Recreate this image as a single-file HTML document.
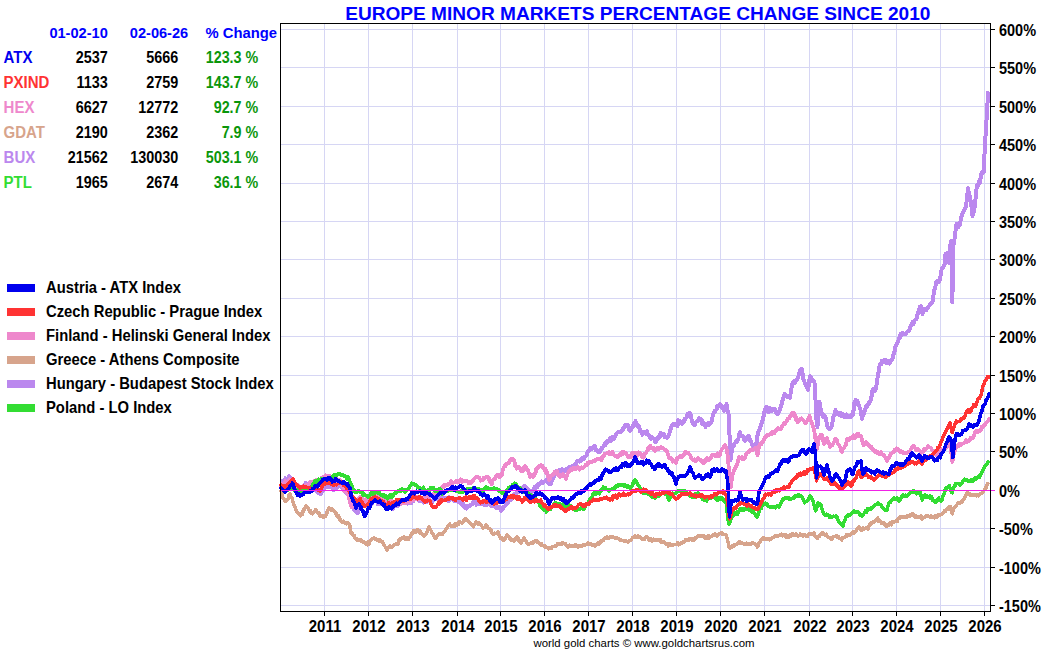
<!DOCTYPE html><html><head><meta charset="utf-8"><style>html,body{margin:0;padding:0;background:#fff;width:1050px;height:650px;overflow:hidden}</style></head><body><svg width="1050" height="650" viewBox="0 0 1050 650" style="position:absolute;left:0;top:0">
<rect width="1050" height="650" fill="#fff"/>
<path d="M324.5 24V611M368.5 24V611M412.5 24V611M457.5 24V611M500.5 24V611M544.5 24V611M588.5 24V611M632.5 24V611M676.5 24V611M720.5 24V611M764.5 24V611M809.5 24V611M852.5 24V611M896.5 24V611M940.5 24V611M984.5 24V611M281 29.5H990M281 67.5H990M281 106.5H990M281 144.5H990M281 183.5H990M281 221.5H990M281 259.5H990M281 298.5H990M281 336.5H990M281 375.5H990M281 413.5H990M281 451.5H990M281 490.5H990M281 528.5H990M281 567.5H990M281 605.5H990" stroke="#d6d6f4" stroke-width="1" fill="none"/>
<polyline points="281.0,486.0 281.7,484.2 282.4,484.7 283.1,480.5 283.9,481.7 284.6,482.0 285.3,478.3 286.0,480.0 286.8,479.0 287.6,478.9 288.4,478.3 289.2,476.0 290.0,477.0 290.7,478.5 291.4,479.7 292.1,479.8 292.9,482.9 293.6,483.4 294.3,484.7 295.0,486.0 295.7,486.0 296.4,487.4 297.1,487.4 297.9,488.9 298.6,488.6 299.3,487.9 300.0,489.0 300.7,488.2 301.4,488.8 302.1,486.9 302.9,487.1 303.6,486.7 304.3,485.4 305.0,485.0 305.7,482.6 306.4,485.1 307.1,485.2 307.9,485.1 308.6,484.2 309.3,486.3 310.0,485.0 310.7,485.3 311.4,485.2 312.1,485.5 312.9,487.1 313.6,486.0 314.3,486.5 315.0,488.0 315.7,490.9 316.4,491.1 317.1,491.7 317.9,492.9 318.6,492.9 319.3,491.4 320.0,494.0 320.7,494.2 321.4,493.3 322.1,491.5 322.9,488.0 323.6,490.3 324.3,489.4 325.0,487.0 325.7,486.3 326.4,486.8 327.1,487.4 327.9,486.3 328.6,487.4 329.3,486.2 330.0,486.0 330.7,486.9 331.4,486.4 332.1,484.9 332.9,485.5 333.6,490.0 334.3,487.1 335.0,487.0 335.7,488.1 336.4,487.6 337.1,487.9 337.9,486.4 338.6,484.9 339.3,485.3 340.0,485.0 340.7,483.7 341.4,486.2 342.1,488.1 342.9,485.6 343.6,488.8 344.3,490.1 345.0,490.0 345.7,492.8 346.4,491.9 347.1,493.6 347.9,493.7 348.6,496.1 349.3,499.1 350.0,500.0 350.7,503.5 351.4,501.4 352.1,505.3 352.8,505.6 353.5,506.0 354.2,510.1 354.9,506.5 355.6,510.3 356.3,511.9 357.0,513.0 357.8,513.2 358.5,510.9 359.2,509.4 360.0,505.0 360.7,505.3 361.4,506.3 362.1,506.9 362.9,506.1 363.6,506.1 364.3,505.7 365.0,506.0 365.7,505.1 366.4,503.9 367.1,506.8 367.9,503.8 368.6,501.7 369.3,503.7 370.0,503.0 370.7,502.5 371.4,502.3 372.1,503.6 372.9,501.2 373.6,500.6 374.3,499.6 375.0,500.0 375.7,500.3 376.4,500.1 377.1,501.1 377.9,504.4 378.6,501.8 379.3,500.8 380.0,502.0 380.7,504.4 381.4,503.6 382.1,503.9 382.9,504.2 383.6,504.6 384.3,504.9 385.0,506.0 385.7,505.9 386.4,506.6 387.1,505.0 387.9,505.9 388.6,505.5 389.3,507.6 390.0,507.0 390.7,507.6 391.4,506.0 392.1,506.9 392.9,508.8 393.6,507.1 394.3,504.4 395.0,505.2 395.7,505.8 396.4,504.8 397.1,505.0 397.9,505.6 398.6,504.5 399.3,502.8 400.0,504.4 400.7,503.3 401.4,503.3 402.1,502.4 402.9,501.3 403.6,501.2 404.3,501.9 405.0,502.0 405.7,501.0 406.4,499.4 407.1,503.6 407.9,501.3 408.6,502.0 409.3,503.4 410.0,503.0 410.7,499.9 411.4,503.3 412.1,500.5 412.9,501.4 413.6,499.6 414.3,499.9 415.0,499.0 415.7,499.3 416.4,499.3 417.1,497.5 417.9,498.0 418.6,499.7 419.3,501.3 420.0,500.0 420.7,499.7 421.4,501.1 422.1,501.0 422.9,501.7 423.6,502.5 424.3,500.1 425.0,502.0 425.7,502.3 426.4,501.8 427.1,501.7 427.9,501.1 428.6,501.2 429.3,500.9 430.0,502.0 430.7,500.4 431.4,503.8 432.1,502.5 432.9,500.3 433.6,500.6 434.3,498.4 435.0,499.0 435.7,495.9 436.4,496.8 437.1,498.7 437.9,499.9 438.6,498.2 439.3,497.1 440.0,498.0 440.7,497.8 441.4,497.1 442.1,496.7 442.9,498.0 443.6,497.9 444.3,497.6 445.0,497.6 445.7,497.6 446.4,498.9 447.1,500.2 447.9,498.6 448.6,501.2 449.3,497.2 450.0,499.0 450.7,499.4 451.4,498.1 452.1,499.3 452.9,499.7 453.6,500.3 454.3,501.0 455.0,499.4 455.7,498.8 456.4,500.1 457.1,500.7 457.9,499.8 458.6,501.7 459.3,502.6 460.0,501.0 460.7,500.5 461.4,503.4 462.1,505.1 462.9,503.0 463.6,506.2 464.3,506.8 465.0,508.0 465.7,506.1 466.4,508.5 467.1,506.9 467.9,505.8 468.6,506.3 469.3,506.1 470.0,505.0 470.7,505.4 471.4,504.8 472.1,504.1 472.9,502.0 473.6,502.4 474.3,502.6 475.0,502.0 475.7,499.4 476.4,504.8 477.1,502.5 477.9,502.0 478.6,501.5 479.3,504.0 480.0,504.0 480.8,504.2 481.6,503.8 482.4,504.2 483.2,503.9 484.0,505.0 484.8,504.1 485.5,504.6 486.2,503.9 487.0,505.2 487.8,504.2 488.5,504.4 489.2,504.6 490.0,504.0 490.8,505.8 491.5,505.6 492.2,505.7 493.0,506.0 493.7,506.1 494.4,505.7 495.1,506.5 495.9,507.9 496.6,507.7 497.3,507.3 498.0,508.0 498.8,507.0 499.6,507.2 500.4,509.5 501.2,510.7 502.0,510.0 502.8,509.4 503.5,506.6 504.2,506.8 505.0,506.0 505.8,505.2 506.6,503.0 507.4,503.4 508.2,501.8 509.0,501.0 509.8,499.4 510.5,498.2 511.2,499.6 512.0,498.0 512.8,497.4 513.6,495.1 514.4,493.9 515.2,494.9 516.0,493.0 516.8,492.8 517.6,491.1 518.4,492.3 519.2,489.5 520.0,489.0 520.7,487.6 521.4,489.6 522.1,487.9 522.9,488.2 523.6,487.6 524.3,486.2 525.0,487.0 525.7,486.5 526.4,488.2 527.1,490.6 527.9,488.8 528.6,492.0 529.3,491.5 530.0,492.0 530.8,490.6 531.5,491.8 532.2,491.8 533.0,491.0 533.8,489.3 534.5,487.3 535.2,489.1 536.0,488.0 536.8,486.0 537.6,486.9 538.4,483.6 539.2,484.7 540.0,484.0 540.8,482.7 541.6,481.6 542.4,482.5 543.2,482.6 544.0,482.0 544.8,481.2 545.5,480.3 546.2,481.5 547.0,481.0 547.8,479.9 548.5,483.1 549.2,483.8 550.0,484.0 550.8,484.3 551.5,481.9 552.2,479.9 553.0,478.0 553.8,476.5 554.5,474.5 555.2,471.4 556.0,471.0 556.8,472.5 557.6,471.6 558.4,470.7 559.2,469.8 560.0,471.0 560.8,472.3 561.5,471.1 562.2,469.0 563.0,470.0 563.8,470.5 564.6,471.6 565.4,469.4 566.2,469.6 567.0,469.0 567.8,468.1 568.5,467.3 569.2,468.6 570.0,467.0 570.8,469.8 571.6,466.3 572.4,465.7 573.2,466.2 574.0,465.0 574.8,464.1 575.5,464.5 576.2,464.0 577.0,461.4 577.8,460.8 578.5,461.2 579.2,461.5 580.0,460.0 580.8,460.0 581.5,460.8 582.2,457.8 583.0,459.0 583.8,458.8 584.5,456.8 585.2,456.9 586.0,456.0 586.8,454.8 587.5,452.0 588.2,451.3 589.0,450.0 589.8,448.5 590.5,449.8 591.2,448.4 592.0,449.0 592.8,447.5 593.7,447.2 594.5,446.0 595.3,447.0 596.2,450.5 597.0,451.0 597.8,450.6 598.5,452.4 599.2,452.0 600.0,452.0 600.8,449.7 601.5,449.3 602.2,447.4 603.0,447.0 603.8,445.4 604.5,444.2 605.2,445.2 606.0,442.0 606.8,441.1 607.5,442.6 608.2,441.0 609.0,440.0 609.8,438.6 610.5,437.6 611.2,440.7 612.0,440.0 612.8,436.9 613.5,438.8 614.2,438.1 615.0,436.0 615.8,435.4 616.5,433.8 617.2,432.7 618.0,432.0 618.8,432.3 619.5,431.7 620.2,431.4 621.0,432.0 621.8,430.4 622.5,430.7 623.2,427.6 624.0,427.0 624.8,426.9 625.5,424.8 626.2,424.8 627.0,425.0 627.8,425.1 628.5,427.8 629.2,430.2 630.0,431.0 630.8,430.1 631.5,428.0 632.2,427.9 633.0,426.0 633.8,424.0 634.7,423.1 635.5,421.0 636.3,423.3 637.2,425.6 638.0,427.0 638.8,425.7 639.5,428.1 640.2,431.6 641.0,432.0 641.8,432.1 642.5,434.8 643.2,432.5 644.0,433.0 644.8,431.9 645.5,433.6 646.2,432.1 647.0,431.0 647.8,434.7 648.5,435.0 649.2,436.0 650.0,438.0 650.8,438.8 651.5,437.2 652.2,437.5 653.0,438.0 653.8,438.4 654.5,439.8 655.2,441.8 656.0,442.0 656.8,440.0 657.5,439.3 658.2,437.0 659.0,436.0 659.8,436.7 660.6,432.7 661.4,435.2 662.2,435.4 663.0,435.0 663.8,434.4 664.5,437.1 665.2,436.7 666.0,437.0 666.8,437.8 667.5,437.0 668.2,436.2 669.0,435.0 670.0,431.3 671.0,428.0 671.8,425.5 672.7,425.1 673.5,424.0 674.3,423.9 675.2,424.9 676.0,425.0 676.8,423.5 677.5,426.2 678.2,420.3 679.0,421.0 679.8,422.6 680.6,421.3 681.4,421.9 682.2,423.6 683.0,423.0 683.8,421.8 684.5,419.2 685.2,419.7 686.0,418.0 686.8,416.8 687.6,413.9 688.4,415.2 689.2,412.9 690.0,413.0 690.8,415.0 691.5,419.0 692.2,421.6 693.0,424.0 693.8,423.2 694.5,425.3 695.2,422.9 696.0,422.0 696.8,421.0 697.6,421.4 698.4,420.7 699.2,418.1 700.0,420.0 700.8,418.9 701.5,419.6 702.2,423.7 703.0,422.0 703.8,423.5 704.7,425.0 705.5,427.0 706.3,425.1 707.2,425.4 708.0,423.0 708.8,423.0 709.5,424.8 710.2,423.8 711.0,423.0 712.0,420.2 713.0,414.0 713.8,412.9 714.5,412.4 715.2,410.5 716.0,410.0 716.8,408.6 717.5,405.7 718.2,405.6 719.0,405.0 719.8,404.3 720.5,404.8 721.2,407.0 722.0,406.0 723.0,408.8 724.0,411.0 724.8,409.9 725.7,407.2 726.5,404.0 727.5,410.0 728.5,414.0 729.5,435.0 730.5,460.0 731.2,455.5 732.0,449.0 732.8,446.9 733.5,446.8 734.2,444.2 735.0,443.0 735.8,441.4 736.7,442.2 737.5,440.0 738.3,439.6 739.2,433.6 740.0,432.0 740.8,435.1 741.7,435.5 742.5,436.0 743.3,436.8 744.2,439.6 745.0,441.0 745.8,440.1 746.5,438.9 747.2,436.9 748.0,436.0 748.8,435.9 749.5,438.5 750.2,440.6 751.0,441.0 751.8,444.2 752.7,446.4 753.5,448.0 754.3,448.5 755.2,445.6 756.0,446.0 757.0,439.0 758.0,432.0 758.8,430.6 759.5,429.5 760.2,426.9 761.0,425.0 762.0,422.5 763.0,419.0 764.0,414.1 765.0,409.0 765.8,411.2 766.5,406.7 767.2,409.0 768.0,409.0 768.8,412.0 769.6,410.0 770.4,408.3 771.2,410.7 772.0,411.0 772.8,409.0 773.5,409.3 774.2,409.7 775.0,409.0 775.8,412.4 776.7,412.8 777.5,414.0 778.3,413.0 779.2,411.7 780.0,409.0 781.0,406.2 782.0,403.0 782.8,399.1 783.7,396.9 784.5,394.0 785.3,395.4 786.2,395.7 787.0,397.0 787.8,396.6 788.5,397.1 789.2,396.2 790.0,398.0 790.8,391.9 791.5,388.0 792.2,384.9 793.0,382.0 793.8,381.4 794.5,381.5 795.2,382.7 796.0,381.0 797.0,379.8 798.0,378.0 798.8,375.0 799.5,372.0 800.3,369.8 801.2,368.9 802.0,369.0 802.8,374.9 803.5,380.0 804.3,381.1 805.2,384.4 806.0,386.0 807.0,386.9 808.0,390.0 809.0,383.1 810.0,376.0 811.0,377.4 812.0,379.0 812.8,381.4 813.7,381.3 814.5,383.0 815.5,400.0 816.5,420.0 817.5,427.0 818.0,410.0 818.8,405.6 819.5,402.0 820.0,405.0 821.0,410.3 822.0,415.0 822.8,415.3 823.5,417.3 824.2,415.5 825.0,416.0 825.8,418.4 826.5,421.7 827.2,425.5 828.0,428.0 829.0,428.7 830.0,429.0 831.0,427.7 832.0,425.0 833.0,418.6 834.0,415.0 834.8,415.1 835.5,410.0 836.3,413.2 837.2,412.6 838.0,414.0 838.8,413.1 839.6,415.0 840.4,415.6 841.2,413.3 842.0,416.0 842.7,416.0 843.4,414.5 844.1,416.5 844.8,417.4 845.5,417.1 846.2,414.4 846.9,417.4 847.6,416.9 848.3,415.6 849.0,416.0 849.8,416.3 850.6,417.2 851.4,415.1 852.2,415.2 853.0,415.0 853.8,407.9 854.5,402.0 855.2,403.2 855.9,399.8 856.6,403.5 857.3,401.0 858.0,402.0 859.0,406.0 860.0,408.0 861.0,411.8 862.0,419.0 862.8,415.8 863.5,413.9 864.2,413.1 865.0,410.0 865.8,406.8 866.5,407.6 867.2,404.8 868.0,404.0 868.8,404.3 869.5,401.7 870.2,401.5 871.0,400.0 871.8,394.8 872.5,390.0 873.2,391.5 873.9,388.8 874.6,388.8 875.3,390.5 876.0,388.0 876.8,383.1 877.5,378.0 878.5,372.7 879.5,366.0 880.2,364.4 881.0,364.5 881.8,361.1 882.5,362.8 883.2,361.2 884.0,361.0 884.8,359.8 885.6,360.3 886.4,363.4 887.2,363.0 888.0,363.0 888.8,360.8 889.6,363.7 890.4,360.5 891.2,360.2 892.0,360.0 892.8,357.6 893.7,353.5 894.5,352.0 895.3,347.3 896.2,345.2 897.0,343.0 898.0,341.7 899.0,338.0 899.8,337.7 900.5,333.9 901.2,335.5 902.0,333.0 902.8,333.2 903.6,333.9 904.4,333.7 905.2,334.2 906.0,334.0 906.8,332.2 907.5,331.6 908.2,331.0 909.0,331.0 910.0,327.6 911.0,325.0 911.8,324.9 912.5,322.2 913.2,324.4 914.0,322.0 914.8,320.3 915.7,319.4 916.5,319.0 917.2,316.2 918.0,312.0 918.8,311.0 919.5,308.6 920.2,306.4 921.0,306.0 921.8,309.0 922.5,314.0 923.2,309.8 924.0,309.0 924.8,309.9 925.5,309.6 926.2,310.2 927.0,308.0 927.8,307.5 928.5,306.3 929.2,305.8 930.0,304.0 930.8,304.2 931.5,302.2 932.2,302.1 933.0,301.0 934.0,290.0 935.0,288.7 936.0,283.0 936.8,281.0 937.5,281.0 938.2,281.2 939.0,282.0 939.8,279.3 940.5,276.2 941.2,271.1 942.0,268.0 942.8,267.7 943.7,265.9 944.5,265.0 945.5,254.0 946.5,253.8 947.5,253.0 948.2,257.4 949.0,263.0 950.0,248.0 951.0,241.0 952.3,302.0 953.5,245.0 954.5,239.0 955.5,231.5 956.5,224.0 957.2,224.2 957.9,225.6 958.6,226.9 959.3,222.9 960.0,225.0 961.0,217.0 962.0,215.1 963.0,212.0 963.8,210.5 964.5,210.0 965.2,208.6 966.0,206.0 967.0,197.8 968.0,188.0 969.0,193.3 970.0,197.0 970.8,202.3 971.7,207.9 972.5,216.0 973.3,214.1 974.2,209.9 975.0,205.0 976.0,194.0 977.0,185.0 977.8,185.8 978.5,184.7 979.2,180.9 980.0,183.0 981.0,174.0 981.8,174.2 982.5,171.5 983.2,173.0 984.0,171.0 984.6,151.0 985.8,131.0 987.0,113.0 988.0,93.0" fill="none" stroke="#bb88ee" stroke-width="4.0" stroke-linejoin="round" stroke-linecap="round" shape-rendering="crispEdges"/>
<polyline points="281.0,486.0 281.8,485.1 282.5,483.7 283.2,484.4 284.0,484.5 284.8,482.6 285.5,481.2 286.2,483.6 287.0,482.0 287.8,481.8 288.5,482.3 289.2,479.3 290.0,480.0 290.7,481.6 291.4,483.3 292.1,483.9 292.9,482.7 293.6,483.8 294.3,484.2 295.0,485.0 295.7,486.2 296.4,486.5 297.1,485.9 297.9,484.9 298.6,487.1 299.3,486.3 300.0,487.0 300.7,487.4 301.4,486.9 302.1,488.0 302.9,487.4 303.6,485.9 304.3,486.4 305.0,486.0 305.7,487.2 306.5,484.8 307.2,485.3 307.9,485.6 308.6,485.3 309.4,484.3 310.1,482.3 310.8,482.0 311.5,482.9 312.3,482.7 313.0,482.0 313.7,484.0 314.4,480.8 315.1,482.4 315.8,481.9 316.5,479.5 317.2,480.1 317.9,480.7 318.6,480.0 319.3,480.1 320.0,480.0 320.7,479.8 321.4,478.1 322.1,478.7 322.9,477.2 323.6,476.7 324.3,477.0 325.0,476.0 325.8,475.4 326.6,476.1 327.4,477.1 328.2,475.6 329.0,475.5 329.8,475.9 330.5,477.3 331.2,476.9 332.0,478.7 332.8,477.2 333.5,479.4 334.2,479.0 335.0,480.0 335.7,479.3 336.4,481.6 337.1,479.3 337.9,481.5 338.6,480.6 339.3,481.3 340.0,480.0 340.7,480.7 341.4,484.2 342.1,486.0 342.9,486.2 343.6,487.7 344.3,491.6 345.0,491.0 345.8,491.9 346.5,492.1 347.2,492.7 348.0,494.0 348.8,497.4 349.5,500.3 350.2,503.2 351.0,506.0 351.7,507.1 352.4,504.9 353.1,505.1 353.9,505.6 354.6,503.0 355.3,504.3 356.0,503.0 356.8,503.6 357.6,499.8 358.4,499.0 359.2,498.1 360.0,498.0 360.7,496.9 361.4,499.5 362.1,498.1 362.9,500.7 363.6,502.1 364.3,500.0 365.0,502.0 365.7,501.2 366.4,499.2 367.1,501.0 367.9,499.1 368.6,498.9 369.3,498.6 370.0,498.0 370.7,498.1 371.4,496.8 372.1,496.7 372.9,495.8 373.6,496.0 374.3,494.4 375.0,495.0 375.7,495.5 376.4,494.2 377.1,495.9 377.9,498.4 378.6,497.2 379.3,496.5 380.0,498.0 380.7,498.5 381.4,497.7 382.1,497.4 382.9,498.5 383.6,500.1 384.3,500.1 385.0,499.9 385.7,499.5 386.4,499.6 387.1,502.0 387.9,501.4 388.6,500.6 389.3,499.9 390.0,502.0 390.7,500.8 391.4,504.3 392.1,501.1 392.9,502.1 393.6,502.4 394.3,502.1 395.0,502.1 395.7,501.2 396.4,501.5 397.1,504.0 397.9,501.9 398.6,503.3 399.3,501.1 400.0,502.4 400.7,502.9 401.4,503.7 402.1,501.8 402.9,503.4 403.6,503.2 404.3,502.3 405.0,503.0 405.7,503.3 406.4,501.9 407.1,501.9 407.9,502.4 408.6,499.9 409.3,502.0 410.0,502.0 410.7,500.5 411.4,499.6 412.1,499.9 412.9,500.4 413.6,498.8 414.3,499.7 415.0,498.0 415.7,497.0 416.4,496.8 417.1,499.4 417.9,498.4 418.6,498.8 419.3,497.3 420.0,498.0 420.7,498.7 421.4,498.2 422.1,498.6 422.9,498.0 423.6,499.1 424.3,497.4 425.0,498.0 425.7,497.0 426.4,496.4 427.1,498.6 427.9,496.8 428.6,496.4 429.3,496.3 430.0,497.0 430.7,496.0 431.4,494.7 432.1,495.0 432.9,494.2 433.6,493.7 434.3,492.7 435.0,493.0 435.7,492.6 436.4,491.7 437.1,491.8 437.9,491.5 438.6,491.2 439.3,488.5 440.0,490.0 440.8,488.5 441.7,487.3 442.5,487.0 443.3,487.3 444.2,484.9 445.0,486.0 445.7,484.9 446.4,484.9 447.1,484.4 447.9,485.2 448.6,483.5 449.3,484.3 450.0,483.0 450.7,481.6 451.4,481.1 452.1,483.6 452.9,482.8 453.6,482.7 454.3,482.3 455.0,482.0 455.7,482.3 456.4,480.6 457.1,482.4 457.9,481.0 458.6,482.2 459.3,481.2 460.0,481.0 460.7,479.3 461.4,479.9 462.1,482.0 462.9,480.9 463.6,480.7 464.3,481.2 465.0,481.0 465.7,480.8 466.4,480.8 467.1,481.5 467.9,481.7 468.6,483.0 469.3,481.9 470.0,482.0 470.7,483.1 471.4,482.4 472.1,481.8 472.9,480.6 473.6,479.3 474.3,478.7 475.0,478.0 475.8,477.5 476.7,476.7 477.5,477.0 478.3,477.6 479.2,477.8 480.0,479.0 480.8,480.7 481.5,480.0 482.2,479.4 483.0,480.0 483.8,477.7 484.6,478.8 485.4,477.8 486.2,476.6 487.0,477.0 487.8,477.2 488.6,477.4 489.4,481.1 490.2,481.7 491.0,483.0 491.8,484.3 492.5,481.0 493.2,479.9 494.0,479.0 494.8,479.3 495.5,477.1 496.2,476.1 497.0,475.0 497.8,474.9 498.6,474.9 499.4,476.9 500.2,476.7 501.0,476.0 501.8,475.3 502.5,471.2 503.2,469.3 504.0,467.0 504.8,465.5 505.5,466.4 506.2,463.5 507.0,464.0 507.8,463.5 508.5,463.0 509.2,462.2 510.0,460.0 510.8,458.9 511.5,460.5 512.2,458.6 513.0,459.0 513.8,460.3 514.5,461.8 515.2,466.0 516.0,467.0 516.8,468.7 517.6,466.9 518.4,466.9 519.2,467.5 520.0,468.0 520.8,471.0 521.5,470.4 522.2,469.8 523.0,471.0 524.0,466.9 525.0,466.0 525.8,466.4 526.5,469.0 527.2,470.6 528.0,470.0 529.0,473.3 530.0,477.0 530.8,476.2 531.6,476.2 532.4,474.7 533.2,477.0 534.0,476.0 534.8,473.3 535.5,473.4 536.2,469.2 537.0,469.0 537.8,467.1 538.6,467.7 539.4,465.9 540.2,466.5 541.0,465.0 541.8,466.0 542.5,466.0 543.2,468.5 544.0,469.0 544.8,470.5 545.5,468.8 546.2,472.9 547.0,472.0 548.0,476.4 549.0,480.0 549.8,479.4 550.5,475.9 551.2,475.6 552.0,475.0 552.8,474.1 553.6,474.7 554.4,471.9 555.2,471.8 556.0,472.0 556.8,471.2 557.6,473.8 558.4,475.3 559.2,474.5 560.0,477.0 560.8,475.7 561.5,475.9 562.2,476.1 563.0,474.0 563.8,475.8 564.5,476.2 565.2,476.7 566.0,479.0 567.0,475.2 568.0,473.0 568.8,471.4 569.5,471.1 570.2,470.0 571.0,469.0 571.8,470.3 572.6,468.9 573.4,467.5 574.2,469.6 575.0,468.0 575.7,469.0 576.4,468.4 577.1,467.8 577.9,466.9 578.6,467.8 579.3,469.7 580.0,469.0 580.8,468.0 581.5,467.3 582.2,468.4 583.0,468.0 583.8,467.3 584.5,466.8 585.2,466.0 586.0,464.5 586.8,465.2 587.6,462.8 588.4,463.9 589.2,461.6 590.0,462.0 590.7,462.3 591.4,461.6 592.1,461.4 592.9,461.7 593.6,460.6 594.3,461.3 595.0,460.0 595.7,460.6 596.4,459.8 597.1,459.1 597.9,458.8 598.6,458.8 599.3,459.0 600.0,459.0 600.8,458.2 601.5,460.1 602.2,457.3 603.0,456.0 603.8,456.1 604.6,454.0 605.4,453.6 606.2,453.3 607.0,453.0 607.8,453.2 608.6,452.1 609.4,454.4 610.2,452.5 611.0,453.0 611.8,454.4 612.5,451.9 613.2,454.5 614.0,455.0 614.8,455.6 615.6,456.0 616.4,456.7 617.2,456.8 618.0,457.0 618.8,456.6 619.5,454.3 620.2,454.9 621.0,455.0 621.8,452.2 622.5,454.1 623.2,453.0 624.0,452.0 624.8,452.6 625.5,452.8 626.2,453.7 627.0,455.0 627.8,457.1 628.5,457.5 629.2,456.4 630.0,457.0 630.8,457.4 631.5,454.1 632.2,453.0 633.0,454.0 633.8,453.4 634.6,452.8 635.4,452.9 636.2,453.4 637.0,453.0 637.8,455.7 638.5,452.4 639.2,453.0 640.0,453.0 640.8,454.2 641.5,455.0 642.2,456.8 643.0,457.0 643.8,457.6 644.5,453.9 645.2,454.1 646.0,453.0 646.8,451.5 647.5,450.8 648.2,447.9 649.0,448.0 649.8,446.5 650.5,446.0 651.2,448.5 652.0,448.0 652.8,448.9 653.5,449.6 654.2,448.2 655.0,451.0 655.8,450.2 656.5,449.3 657.2,448.3 658.0,449.0 658.8,447.7 659.5,448.6 660.2,448.0 661.0,447.0 661.8,447.5 662.5,448.5 663.2,448.0 664.0,449.0 664.8,449.6 665.5,450.0 666.2,451.0 667.0,451.0 668.0,454.4 669.0,458.0 669.8,458.1 670.5,458.4 671.2,458.2 672.0,459.0 672.8,461.7 673.5,461.0 674.2,461.6 675.0,462.0 675.8,463.0 676.5,461.2 677.2,457.6 678.0,458.0 679.0,457.6 680.0,456.0 680.8,456.5 681.5,457.2 682.2,456.4 683.0,455.0 683.8,454.9 684.5,452.5 685.2,452.0 686.0,452.0 686.8,452.7 687.5,453.4 688.2,452.6 689.0,454.0 689.8,454.9 690.5,456.1 691.2,457.8 692.0,459.0 692.8,459.8 693.5,459.7 694.2,459.4 695.0,461.0 695.8,461.3 696.5,460.9 697.2,458.7 698.0,458.0 698.8,459.4 699.5,459.4 700.2,460.1 701.0,460.0 701.8,461.2 702.5,460.8 703.2,462.8 704.0,463.0 704.8,462.6 705.5,459.7 706.2,461.0 707.0,458.0 707.8,459.8 708.5,459.6 709.2,459.8 710.0,458.0 710.8,457.9 711.5,456.2 712.2,455.2 713.0,455.0 713.8,454.5 714.5,455.6 715.2,455.7 716.0,456.0 716.8,456.1 717.5,453.2 718.2,456.5 719.0,454.0 719.8,454.8 720.5,451.5 721.2,450.8 722.0,449.0 722.8,448.4 723.5,447.2 724.2,445.8 725.0,445.0 726.0,447.4 727.0,450.0 727.8,456.8 728.5,465.0 729.2,473.7 730.0,482.0 731.0,487.0 732.0,477.0 733.0,473.5 734.0,470.0 734.8,469.0 735.5,466.7 736.2,466.3 737.0,465.0 738.0,461.0 739.0,457.0 740.0,458.0 741.0,458.0 741.8,457.3 742.5,458.9 743.2,459.6 744.0,459.0 744.8,458.0 745.5,455.7 746.2,454.1 747.0,453.0 747.8,452.0 748.5,452.1 749.2,452.1 750.0,450.0 750.8,449.9 751.5,449.4 752.2,450.3 753.0,450.0 753.8,449.7 754.5,448.2 755.2,447.9 756.0,448.0 756.8,451.4 757.5,455.0 758.2,451.1 759.0,446.0 759.8,444.2 760.6,443.5 761.4,444.0 762.2,441.7 763.0,442.0 764.0,439.6 765.0,437.0 765.7,436.9 766.4,436.0 767.1,434.8 767.9,435.2 768.6,434.6 769.3,434.7 770.0,434.0 770.7,433.0 771.4,434.4 772.1,431.7 772.9,432.7 773.6,432.6 774.3,433.1 775.0,432.0 775.8,430.5 776.5,430.5 777.2,428.5 778.0,428.0 779.0,429.1 780.0,429.0 780.8,429.5 781.5,426.6 782.2,426.4 783.0,425.0 783.8,423.4 784.5,424.4 785.2,423.8 786.0,422.0 786.8,420.8 787.6,418.6 788.4,418.8 789.2,418.2 790.0,416.0 790.8,416.4 791.6,415.5 792.4,412.6 793.2,413.0 794.0,413.0 794.8,416.3 795.5,415.9 796.2,420.0 797.0,421.0 797.8,422.2 798.5,420.7 799.2,420.5 800.0,419.0 800.8,419.0 801.5,418.4 802.2,419.7 803.0,420.0 803.8,420.6 804.5,421.5 805.2,422.9 806.0,423.0 806.7,421.5 807.4,420.4 808.1,419.2 808.8,417.4 809.5,416.0 810.3,420.0 811.2,421.1 812.0,423.0 813.0,426.1 814.0,429.0 814.8,434.3 815.5,440.0 816.2,443.9 817.0,449.0 818.0,444.2 819.0,437.0 819.8,436.6 820.5,435.1 821.2,435.0 822.0,435.0 823.0,439.4 824.0,444.0 824.8,442.1 825.5,442.0 826.2,438.5 827.0,438.0 827.8,440.7 828.5,442.6 829.2,443.7 830.0,447.0 830.8,446.3 831.5,445.4 832.2,445.2 833.0,444.0 833.8,442.4 834.5,441.8 835.2,438.8 836.0,439.0 836.8,439.5 837.5,442.7 838.2,444.4 839.0,445.0 839.8,446.7 840.5,448.0 841.2,451.2 842.0,452.0 842.8,448.7 843.5,448.3 844.2,448.1 845.0,446.0 845.8,444.8 846.5,441.6 847.2,439.1 848.0,439.0 848.8,440.1 849.6,438.7 850.4,437.6 851.2,438.2 852.0,438.0 852.8,438.5 853.5,435.2 854.2,438.2 855.0,437.0 855.8,437.3 856.6,434.4 857.4,436.5 858.2,433.8 859.0,435.0 860.0,436.5 861.0,436.0 862.0,440.4 863.0,444.0 863.8,445.5 864.5,442.5 865.2,442.5 866.0,442.0 866.8,443.9 867.6,443.4 868.4,444.4 869.2,445.7 870.0,447.0 870.8,447.5 871.6,447.2 872.4,449.2 873.2,449.9 874.0,450.0 874.8,450.6 875.5,452.5 876.2,451.2 877.0,452.0 877.8,453.5 878.5,452.3 879.2,453.8 880.0,453.5 880.8,452.1 881.5,454.2 882.3,454.2 883.1,454.6 883.9,455.4 884.8,456.6 885.6,458.1 886.5,459.0 887.3,460.9 888.0,457.7 888.7,457.9 889.4,456.7 890.1,455.5 890.8,453.8 891.5,453.5 892.3,452.6 893.0,452.7 893.8,451.1 894.5,450.1 895.3,451.0 896.0,449.9 896.8,448.3 897.5,449.6 898.2,450.4 898.9,449.6 899.6,450.3 900.3,451.9 901.0,451.4 901.8,451.3 902.6,452.1 903.5,453.0 904.3,453.4 905.1,453.5 905.9,452.8 906.8,453.5 907.6,452.1 908.5,452.5 909.3,451.4 910.1,451.0 910.9,449.4 911.7,448.1 912.5,446.2 913.2,445.7 913.9,446.1 914.6,447.2 915.3,448.7 916.0,450.1 916.7,449.3 917.4,448.7 918.2,450.5 918.9,449.9 919.7,450.5 920.4,451.3 921.2,452.7 921.9,452.5 922.7,451.9 923.5,451.9 924.2,449.2 925.0,449.3 925.8,449.3 926.6,448.6 927.4,447.0 928.2,446.2 929.0,447.5 929.9,447.4 930.7,447.8 931.6,449.2 932.4,450.4 933.1,450.5 933.8,454.3 934.5,452.1 935.2,454.7 935.9,454.1 936.6,454.6 937.4,454.2 938.1,453.9 938.9,451.9 939.7,452.8 940.5,451.6 941.2,449.3 942.0,450.0 942.7,450.0 943.4,449.4 944.1,448.8 944.9,449.2 945.6,446.9 946.3,447.2 947.0,446.2 947.8,446.3 948.5,444.3 949.2,445.6 950.0,444.0 950.8,448.7 951.5,454.8 952.3,461.9 953.1,459.0 953.8,454.1 954.6,451.6 955.4,448.3 956.1,446.3 956.8,447.3 957.5,445.7 958.2,446.5 958.9,444.3 959.6,445.1 960.4,445.1 961.3,444.0 962.1,443.9 963.0,443.4 963.8,443.0 964.5,442.8 965.3,441.3 966.0,439.9 966.8,441.9 967.5,440.7 968.3,440.9 969.0,441.0 969.7,440.8 970.4,438.2 971.1,438.7 971.8,438.3 972.5,437.4 973.2,437.8 974.2,434.9 975.3,431.5 976.0,431.4 976.7,430.8 977.4,430.6 978.1,432.2 978.8,430.9 979.5,431.5 980.3,431.0 981.1,429.8 981.9,426.7 982.7,427.3 983.5,425.3 984.2,425.2 985.0,424.4 985.8,423.0 986.6,422.7 987.4,421.7 988.2,420.9 989.0,419.0" fill="none" stroke="#ee88cc" stroke-width="3.8" stroke-linejoin="round" stroke-linecap="round" shape-rendering="crispEdges"/>
<polyline points="281.0,491.0 282.0,494.2 283.0,498.0 284.0,499.3 285.0,501.0 285.8,501.1 286.5,499.7 287.2,500.3 288.0,499.0 289.0,495.4 290.0,494.0 290.8,496.5 291.5,497.9 292.2,498.6 293.0,502.0 294.0,505.2 295.0,507.0 295.8,509.2 296.7,511.0 297.5,513.0 298.3,512.9 299.2,514.0 300.0,515.0 300.8,515.8 301.7,513.7 302.5,514.0 303.2,509.9 303.9,510.2 304.6,508.3 305.3,507.5 306.0,506.0 306.8,506.7 307.5,507.3 308.2,508.4 309.0,510.0 309.7,511.6 310.4,510.6 311.1,513.8 311.8,512.8 312.5,514.0 313.2,512.2 314.0,512.6 314.8,511.4 315.5,510.0 316.3,510.2 317.2,512.5 318.0,513.0 318.8,512.4 319.5,513.8 320.2,516.1 321.0,516.0 321.8,516.1 322.5,515.6 323.2,517.1 324.0,517.0 325.0,516.7 326.0,515.0 326.8,513.2 327.5,510.2 328.2,509.5 329.0,508.0 329.8,508.6 330.5,509.1 331.2,510.1 332.0,509.0 332.8,509.6 333.5,510.2 334.2,511.2 335.0,512.0 335.8,514.1 336.5,513.8 337.2,516.7 338.0,517.0 338.8,516.0 339.5,519.6 340.2,519.5 341.0,521.0 341.8,521.7 342.6,522.3 343.4,521.3 344.2,522.5 345.0,523.0 345.8,523.4 346.6,523.8 347.4,522.9 348.2,523.1 349.0,524.0 349.8,525.6 350.5,530.0 351.3,533.5 352.2,533.2 353.0,535.0 353.8,535.8 354.5,535.9 355.2,538.7 356.0,539.0 356.8,538.8 357.6,540.4 358.4,540.2 359.2,539.8 360.0,540.0 360.8,541.0 361.5,540.2 362.2,541.3 363.0,542.0 363.8,542.1 364.5,542.1 365.2,543.5 366.0,544.0 366.8,543.9 367.5,545.0 368.2,541.6 369.0,544.0 370.0,541.5 371.0,540.0 371.8,538.8 372.5,538.7 373.2,538.8 374.0,538.0 374.8,538.8 375.5,539.0 376.2,539.2 377.0,540.0 377.8,540.6 378.5,540.8 379.2,539.4 380.0,541.0 380.8,541.3 381.5,541.0 382.2,541.6 383.0,543.0 383.8,544.5 384.6,545.8 385.4,547.3 386.2,548.0 387.0,550.0 387.8,548.9 388.5,547.3 389.2,547.3 390.0,546.0 390.8,546.5 391.5,547.3 392.2,546.9 393.0,546.0 393.8,545.0 394.6,544.9 395.4,544.1 396.2,544.6 397.0,544.0 397.8,544.4 398.5,542.5 399.2,539.4 400.0,540.0 400.8,538.5 401.6,537.9 402.4,538.6 403.2,537.6 404.0,537.0 404.8,537.7 405.5,539.3 406.2,537.9 407.0,539.0 407.8,537.9 408.5,539.4 409.2,537.7 410.0,537.0 410.8,535.4 411.5,533.5 412.2,532.9 413.0,533.0 413.7,530.8 414.4,532.2 415.1,531.7 415.9,532.0 416.6,530.8 417.3,529.9 418.0,530.0 418.8,530.2 419.5,532.9 420.2,531.0 421.0,533.0 421.8,533.9 422.5,534.5 423.2,535.7 424.0,536.0 424.8,534.7 425.5,534.4 426.2,533.6 427.0,532.0 428.0,529.4 429.0,527.0 429.8,528.2 430.5,529.9 431.2,530.8 432.0,533.0 432.7,533.9 433.4,534.8 434.1,536.2 434.8,538.0 435.5,538.0 436.2,538.1 436.9,536.1 437.6,536.0 438.3,535.0 439.0,534.0 439.7,534.5 440.4,534.0 441.1,534.2 441.8,533.7 442.5,534.0 443.2,532.4 443.9,532.6 444.6,531.9 445.3,530.5 446.0,529.0 446.8,528.3 447.5,527.2 448.2,525.7 449.0,525.0 449.8,524.0 450.5,526.0 451.2,525.9 452.0,526.0 452.8,525.4 453.6,524.9 454.4,526.3 455.2,523.9 456.0,525.0 456.8,525.5 457.5,524.0 458.2,524.5 459.0,522.0 459.8,521.7 460.5,522.5 461.2,522.4 462.0,523.0 462.7,522.3 463.4,521.2 464.1,520.1 464.8,520.6 465.5,519.0 466.3,519.1 467.2,520.0 468.0,521.0 468.8,522.1 469.5,522.1 470.2,522.9 471.0,524.0 471.8,525.3 472.7,525.7 473.5,527.0 474.3,524.4 475.2,523.6 476.0,522.0 476.8,522.2 477.6,524.0 478.4,522.4 479.2,524.3 480.0,524.0 480.8,524.4 481.5,525.7 482.2,526.8 483.0,528.0 483.8,527.4 484.5,527.1 485.2,527.0 486.0,525.0 486.8,525.3 487.6,527.6 488.4,528.1 489.2,528.8 490.0,529.0 490.8,529.7 491.5,532.1 492.2,532.7 493.0,534.0 493.7,534.0 494.4,533.2 495.1,533.6 495.9,533.7 496.6,533.4 497.3,532.1 498.0,532.0 499.0,535.2 500.0,537.0 500.8,538.6 501.6,537.5 502.4,539.9 503.2,538.4 504.0,540.0 504.8,539.1 505.5,537.9 506.2,537.3 507.0,535.0 507.8,536.2 508.5,536.7 509.2,537.4 510.0,539.0 510.8,538.5 511.6,540.4 512.4,540.0 513.2,540.1 514.0,541.0 514.8,540.4 515.5,538.4 516.2,537.7 517.0,537.0 517.8,537.9 518.6,540.6 519.4,541.7 520.2,541.7 521.0,543.0 521.8,540.6 522.5,540.7 523.2,539.3 524.0,538.0 524.8,539.5 525.6,540.8 526.4,541.4 527.2,543.5 528.0,544.0 528.8,544.4 529.6,543.8 530.4,543.1 531.2,542.9 532.0,543.0 532.8,543.1 533.6,541.4 534.4,541.7 535.2,540.9 536.0,541.0 536.8,540.6 537.6,542.6 538.4,542.8 539.2,543.4 540.0,544.0 540.8,545.0 541.6,543.7 542.4,545.2 543.2,545.8 544.0,546.0 544.8,547.0 545.6,546.0 546.4,547.7 547.2,547.8 548.0,548.0 548.8,548.8 549.6,548.4 550.4,547.8 551.2,548.7 552.0,547.0 552.8,546.8 553.6,546.3 554.4,546.2 555.2,545.5 556.0,546.0 556.8,545.6 557.6,543.8 558.4,544.7 559.2,544.7 560.0,544.0 560.8,544.5 561.5,543.2 562.2,544.2 563.0,543.0 563.8,543.1 564.6,544.1 565.4,543.4 566.2,544.9 567.0,546.0 567.7,545.4 568.4,547.1 569.1,546.4 569.9,545.2 570.6,546.4 571.3,546.3 572.0,546.0 572.7,545.8 573.5,546.0 574.2,545.8 574.9,545.6 575.6,544.8 576.4,545.9 577.1,546.9 577.8,547.0 578.5,545.8 579.3,545.5 580.0,546.0 580.8,545.7 581.6,546.2 582.4,545.6 583.2,544.8 584.0,545.0 584.7,545.0 585.4,544.4 586.1,544.7 586.9,543.9 587.6,542.9 588.3,543.8 589.0,543.5 589.8,544.4 590.6,543.5 591.4,544.6 592.2,545.7 593.0,545.5 593.8,544.9 594.6,544.4 595.4,546.0 596.2,544.9 597.0,544.0 597.8,544.3 598.6,542.5 599.4,543.9 600.2,541.2 601.0,542.0 601.8,540.9 602.5,541.0 603.2,540.7 604.0,539.0 604.8,538.1 605.6,538.1 606.4,538.5 607.2,536.8 608.0,538.0 608.8,538.1 609.6,537.8 610.4,536.8 611.2,537.2 612.0,536.5 612.8,537.2 613.6,537.1 614.4,537.5 615.2,538.4 616.0,537.5 616.8,537.5 617.5,538.4 618.2,538.3 619.0,539.0 619.8,540.1 620.5,539.5 621.2,540.5 622.0,540.5 622.8,540.6 623.6,540.5 624.4,541.7 625.2,540.4 626.0,540.5 626.8,541.7 627.5,541.6 628.2,542.2 629.0,541.5 629.8,540.6 630.5,540.6 631.2,539.8 632.0,538.5 632.8,537.4 633.5,537.4 634.2,536.5 635.0,536.0 635.8,536.3 636.6,537.5 637.4,536.4 638.2,536.0 639.0,537.5 639.8,536.7 640.6,538.0 641.4,538.3 642.2,539.1 643.0,539.5 643.7,539.3 644.4,539.5 645.1,537.9 645.8,537.4 646.5,536.5 647.2,536.7 647.9,538.3 648.6,539.5 649.3,540.2 650.0,540.0 650.7,538.6 651.4,540.6 652.1,541.1 652.9,540.6 653.6,539.0 654.3,539.8 655.0,540.0 655.8,540.4 656.6,540.3 657.4,539.4 658.2,539.4 659.0,540.0 659.8,541.1 660.6,539.9 661.4,542.2 662.2,541.6 663.0,542.0 663.8,542.7 664.6,542.1 665.4,543.1 666.2,544.5 667.0,544.5 667.7,543.6 668.4,546.1 669.1,543.7 669.9,543.9 670.6,544.9 671.3,545.3 672.0,545.0 672.8,545.4 673.6,544.5 674.4,544.6 675.2,544.4 676.0,544.5 676.8,544.0 677.6,542.5 678.4,544.9 679.2,544.3 680.0,544.0 680.7,543.7 681.4,542.7 682.1,542.9 682.9,542.3 683.6,541.8 684.3,542.2 685.0,541.0 685.7,539.5 686.4,540.6 687.1,539.4 687.9,539.6 688.6,540.6 689.3,538.5 690.0,539.0 690.8,539.1 691.6,539.0 692.4,540.3 693.2,539.1 694.0,540.0 694.8,538.0 695.6,538.8 696.4,537.4 697.2,536.6 698.0,536.0 698.8,536.7 699.6,535.4 700.4,535.7 701.2,536.1 702.0,536.0 702.8,536.5 703.6,536.0 704.4,537.3 705.2,538.3 706.0,537.0 706.8,536.7 707.6,538.3 708.4,535.5 709.2,538.0 710.0,537.0 710.8,536.4 711.6,536.3 712.4,535.6 713.2,535.0 714.0,535.0 714.8,534.1 715.6,534.7 716.4,535.9 717.2,535.8 718.0,535.0 718.8,534.4 719.6,533.8 720.4,533.3 721.2,532.6 722.0,533.0 722.8,534.6 723.6,534.3 724.4,534.3 725.2,534.3 726.0,535.0 727.0,537.8 728.0,542.0 728.8,545.9 729.5,548.0 730.2,548.1 730.9,546.5 731.6,547.5 732.3,545.6 733.0,546.0 733.8,546.0 734.6,544.5 735.4,544.5 736.2,544.7 737.0,544.0 737.8,543.8 738.5,543.7 739.2,541.9 740.0,542.0 740.8,543.5 741.6,543.7 742.4,543.2 743.2,543.9 744.0,544.0 744.8,543.5 745.6,543.9 746.4,543.1 747.2,544.1 748.0,544.0 748.8,543.9 749.6,544.5 750.4,544.1 751.2,543.8 752.0,543.0 752.8,543.0 753.5,543.3 754.2,543.5 755.0,544.0 755.8,545.2 756.7,544.7 757.5,547.0 758.3,545.9 759.2,542.6 760.0,542.0 760.8,540.6 761.5,540.0 762.2,538.6 763.0,538.0 763.8,539.3 764.6,538.3 765.4,539.7 766.2,539.6 767.0,539.0 767.8,538.7 768.6,539.3 769.4,539.9 770.2,538.8 771.0,539.0 771.8,538.5 772.6,537.4 773.4,537.2 774.2,536.4 775.0,536.0 775.7,535.9 776.4,536.4 777.1,536.5 777.9,535.5 778.6,535.4 779.3,535.7 780.0,535.0 780.8,534.8 781.6,534.3 782.4,535.8 783.2,534.4 784.0,535.0 784.8,535.9 785.6,534.9 786.4,537.2 787.2,535.5 788.0,536.5 788.7,536.8 789.4,537.0 790.1,535.0 790.9,536.4 791.6,534.5 792.3,533.6 793.0,534.5 793.7,535.2 794.4,535.4 795.1,535.0 795.9,533.6 796.6,535.5 797.3,535.6 798.0,536.0 798.8,535.4 799.6,535.2 800.4,533.9 801.2,534.4 802.0,534.5 802.7,536.0 803.4,536.0 804.1,534.9 804.9,534.9 805.6,535.8 806.3,536.5 807.0,536.0 807.8,536.0 808.5,534.2 809.2,534.6 810.0,534.0 810.8,533.9 811.6,534.6 812.4,534.2 813.2,533.6 814.0,533.0 814.8,535.5 815.7,536.1 816.5,538.0 817.3,538.4 818.1,536.4 818.9,536.3 819.6,536.1 820.4,534.2 821.2,533.7 822.0,533.5 822.7,532.6 823.4,534.3 824.1,534.5 824.9,534.7 825.6,535.6 826.3,534.2 827.0,536.0 827.8,536.6 828.6,537.3 829.4,537.6 830.2,538.9 831.0,539.0 831.7,539.7 832.4,537.7 833.1,536.9 833.9,536.6 834.6,536.6 835.3,536.4 836.0,535.5 836.7,535.4 837.4,537.2 838.1,536.3 838.9,538.1 839.6,538.3 840.3,538.8 841.0,539.0 841.8,540.0 842.6,537.8 843.4,537.4 844.2,537.3 845.0,536.5 845.7,536.8 846.4,535.0 847.1,535.8 847.9,534.8 848.6,535.5 849.3,535.7 850.0,534.5 850.8,534.2 851.6,533.8 852.4,533.7 853.2,531.3 854.0,533.0 854.7,532.7 855.4,531.7 856.1,530.5 856.9,529.3 857.6,528.2 858.3,527.7 859.0,527.0 859.8,528.6 860.5,528.4 861.2,530.2 862.0,530.0 862.8,527.8 863.6,528.9 864.4,529.0 865.2,528.4 866.0,528.0 867.0,527.4 868.0,529.0 869.0,526.0 870.0,524.0 870.8,524.5 871.6,522.3 872.4,522.1 873.2,521.6 874.0,522.0 874.8,520.9 875.5,520.9 876.2,520.2 877.0,519.0 877.8,518.1 878.5,521.1 879.2,520.2 880.0,521.1 880.8,521.2 881.5,523.3 882.3,522.6 883.1,523.2 883.9,523.1 884.7,524.3 885.5,525.0 886.3,526.3 887.0,525.1 887.7,525.0 888.4,525.4 889.1,524.5 889.8,522.8 890.5,523.2 891.2,524.8 892.0,521.9 892.7,522.4 893.5,522.0 894.2,522.2 895.0,521.2 895.7,521.1 896.5,520.8 897.2,521.4 898.0,519.4 898.7,518.0 899.5,518.3 900.2,516.9 901.0,516.9 901.7,516.6 902.5,517.0 903.2,517.1 904.0,516.7 904.7,517.5 905.5,516.8 906.2,516.9 906.9,515.7 907.7,516.9 908.4,515.7 909.2,516.5 909.9,514.9 910.7,515.5 911.4,514.8 912.2,515.3 912.9,513.5 913.7,514.7 914.4,515.2 915.2,517.3 915.9,515.3 916.7,516.9 917.5,517.3 918.4,517.3 919.2,516.6 920.1,516.6 920.9,515.9 921.9,519.0 922.6,518.1 923.3,518.0 924.0,517.6 924.7,517.2 925.4,516.9 926.1,515.9 926.9,516.0 927.8,515.8 928.6,516.1 929.5,517.0 930.3,516.9 931.0,515.9 931.7,516.4 932.4,517.2 933.1,517.3 933.8,517.6 934.5,518.0 935.2,515.8 935.9,517.1 936.6,516.8 937.3,517.1 938.0,514.9 938.7,515.9 939.5,515.0 940.4,514.9 941.2,514.3 942.1,514.2 942.9,512.7 943.7,512.8 944.5,510.7 945.4,511.3 946.2,510.0 947.0,509.6 947.8,508.2 948.6,509.1 949.4,506.8 950.2,506.4 951.2,509.5 952.3,513.8 953.0,511.4 953.7,509.0 954.4,507.5 955.2,507.1 956.0,505.7 956.7,505.3 957.5,503.3 958.2,503.4 958.9,502.5 959.6,503.5 960.3,502.1 961.0,502.1 961.7,502.2 962.5,500.8 963.3,499.6 964.1,499.1 964.9,497.0 965.6,495.2 966.3,494.4 967.0,492.8 967.8,493.3 968.5,493.0 969.3,493.6 970.1,494.9 970.9,494.7 971.8,495.2 972.6,495.1 973.5,495.2 974.3,494.9 975.0,495.1 975.7,495.0 976.4,495.7 977.1,494.9 977.8,494.9 978.5,496.0 979.2,495.2 979.9,493.9 980.6,494.0 981.3,493.3 982.0,492.9 982.7,492.8 983.5,491.7 984.2,490.1 985.0,489.4 985.8,488.6 986.5,485.7 987.2,485.2 987.9,483.4" fill="none" stroke="#d7a48c" stroke-width="3.5" stroke-linejoin="round" stroke-linecap="round" shape-rendering="crispEdges"/>
<polyline points="281.0,488.0 281.8,487.9 282.6,488.2 283.4,488.0 284.2,489.4 285.0,490.0 285.7,490.5 286.4,488.9 287.1,487.7 287.9,490.5 288.6,490.0 289.3,488.8 290.0,488.0 290.7,487.7 291.4,487.4 292.1,487.2 292.9,489.0 293.6,489.7 294.3,488.0 295.0,489.0 295.7,489.3 296.4,489.4 297.1,489.7 297.9,490.5 298.6,492.0 299.3,490.2 300.0,491.0 300.7,491.5 301.4,491.6 302.1,490.4 302.9,490.3 303.6,489.3 304.3,491.0 305.0,490.0 305.7,489.3 306.4,488.9 307.1,489.2 307.9,488.2 308.6,487.8 309.3,488.1 310.0,488.0 310.8,488.3 311.6,486.2 312.4,486.0 313.2,483.7 314.0,484.0 315.0,481.0 316.0,481.0 316.8,482.2 317.6,480.3 318.4,479.2 319.2,480.1 320.0,480.0 320.7,480.4 321.4,478.5 322.1,479.1 322.9,479.9 323.6,478.9 324.3,480.2 325.0,479.5 325.7,480.1 326.4,479.6 327.1,478.7 327.9,478.9 328.6,478.3 329.3,478.5 330.0,478.5 330.8,478.1 331.5,477.0 332.2,477.4 333.0,476.0 333.8,477.6 334.5,474.8 335.2,475.1 336.0,474.5 336.8,475.0 337.6,474.8 338.4,474.0 339.2,473.7 340.0,474.0 340.7,475.1 341.4,475.1 342.1,475.2 342.9,474.5 343.6,475.9 344.3,476.3 345.0,476.0 345.8,476.5 346.6,477.7 347.4,479.5 348.2,476.9 349.0,479.0 350.0,482.0 351.0,484.0 352.0,486.1 353.0,490.0 354.0,489.9 355.0,492.0 355.7,491.8 356.4,492.4 357.1,492.0 357.9,491.1 358.6,490.9 359.3,491.6 360.0,492.0 360.7,492.4 361.4,492.2 362.1,492.1 362.9,495.1 363.6,493.5 364.3,494.5 365.0,495.0 365.8,495.1 366.5,495.5 367.2,496.5 368.0,497.0 368.8,496.0 369.6,495.9 370.4,493.7 371.2,492.6 372.0,493.0 372.8,494.3 373.6,492.5 374.4,493.0 375.2,493.1 376.0,492.0 376.8,492.8 377.6,492.8 378.4,492.0 379.2,492.4 380.0,494.0 380.8,495.1 381.7,495.2 382.5,495.0 383.3,496.1 384.2,495.0 385.0,497.0 385.8,496.0 386.7,497.5 387.5,499.0 388.3,496.8 389.2,496.5 390.0,495.0 390.8,494.9 391.7,497.6 392.5,497.0 393.3,495.2 394.2,493.9 395.0,493.0 395.8,493.3 396.7,492.6 397.5,492.0 398.3,490.6 399.2,491.3 400.0,490.0 400.8,491.5 401.7,489.0 402.5,490.0 403.3,490.5 404.2,490.5 405.0,492.0 405.8,489.5 406.7,490.5 407.5,489.0 408.3,488.5 409.2,487.8 410.0,486.0 410.8,485.7 411.7,483.1 412.5,484.0 413.3,484.3 414.2,484.1 415.0,485.0 415.8,484.8 416.7,485.5 417.5,487.0 418.3,487.9 419.2,487.4 420.0,488.0 420.8,489.5 421.7,488.4 422.5,488.0 423.3,487.2 424.2,490.0 425.0,490.0 425.8,491.3 426.7,490.7 427.5,491.0 428.3,489.4 429.2,491.0 430.0,489.0 430.8,487.6 431.7,488.3 432.5,488.0 433.3,487.5 434.2,489.0 435.0,491.0 435.8,489.3 436.7,491.2 437.5,490.0 438.3,490.6 439.2,489.0 440.0,489.0 440.8,489.6 441.7,492.3 442.5,494.0 443.3,493.6 444.2,491.5 445.0,492.0 445.7,490.8 446.4,491.3 447.1,491.7 447.9,490.9 448.6,490.9 449.3,489.3 450.0,490.0 450.7,488.1 451.4,490.2 452.1,489.3 452.9,489.9 453.6,489.7 454.3,490.4 455.0,490.0 455.7,489.7 456.4,491.7 457.1,490.9 457.9,491.6 458.6,491.9 459.3,492.5 460.0,492.0 460.7,492.0 461.4,490.1 462.1,490.7 462.9,492.3 463.6,490.9 464.3,490.7 465.0,490.0 465.7,490.2 466.4,489.2 467.1,489.0 467.9,488.9 468.6,490.2 469.3,489.4 470.0,489.0 470.7,490.2 471.4,489.1 472.1,490.1 472.9,488.8 473.6,487.4 474.3,489.5 475.0,488.0 475.7,488.6 476.4,489.5 477.1,489.0 477.9,488.9 478.6,489.6 479.3,488.8 480.0,490.0 480.8,489.3 481.5,489.8 482.2,490.3 483.0,491.0 483.8,488.9 484.5,488.9 485.2,488.2 486.0,487.0 486.8,489.0 487.6,489.2 488.4,488.2 489.2,489.3 490.0,489.0 490.7,488.8 491.4,489.3 492.1,489.0 492.9,488.6 493.6,489.1 494.3,487.8 495.0,489.0 495.7,489.6 496.4,489.3 497.1,489.0 497.9,489.9 498.6,490.9 499.3,490.2 500.0,491.0 500.8,491.9 501.5,492.4 502.2,493.7 503.0,493.0 503.7,491.6 504.4,491.8 505.1,491.7 505.9,491.9 506.6,490.3 507.3,490.2 508.0,489.0 508.7,487.3 509.4,487.4 510.1,488.6 510.9,486.5 511.6,487.8 512.3,485.0 513.0,485.0 513.8,484.5 514.5,483.2 515.2,484.8 516.0,484.0 516.8,485.2 517.6,487.6 518.4,487.1 519.2,487.8 520.0,489.0 520.7,488.3 521.4,489.8 522.1,491.0 522.9,491.3 523.6,492.1 524.3,492.3 525.0,492.0 525.7,492.4 526.4,493.3 527.1,493.4 527.9,492.7 528.6,495.5 529.3,494.9 530.0,495.0 530.7,494.6 531.4,496.2 532.1,496.5 532.9,497.5 533.6,498.3 534.3,495.2 535.0,498.0 535.8,499.4 536.5,501.2 537.2,500.3 538.0,502.0 538.8,501.8 539.5,504.7 540.2,506.0 541.0,507.0 541.8,508.0 542.5,507.6 543.2,508.9 544.0,510.0 544.8,510.3 545.6,510.8 546.4,512.0 547.2,510.6 548.0,510.5 548.8,509.3 549.6,507.2 550.4,509.3 551.2,507.6 552.0,507.0 552.8,506.1 553.6,504.6 554.4,505.2 555.2,502.4 556.0,503.0 556.8,503.3 557.6,503.5 558.4,503.8 559.2,504.8 560.0,504.0 560.7,504.2 561.4,504.6 562.1,505.5 562.9,503.9 563.6,505.2 564.3,505.8 565.0,506.0 565.7,506.8 566.4,505.4 567.1,506.6 567.9,506.3 568.6,504.8 569.3,504.8 570.0,506.0 570.7,505.4 571.4,507.3 572.1,507.9 572.9,508.9 573.6,509.5 574.3,509.0 575.0,510.0 575.7,510.7 576.4,510.4 577.1,509.9 577.9,509.8 578.6,508.3 579.3,509.4 580.0,509.0 580.8,508.2 581.6,508.1 582.4,508.7 583.2,509.1 584.0,509.0 584.8,507.8 585.6,506.3 586.4,504.6 587.2,504.3 588.0,503.0 588.8,501.2 589.5,499.4 590.2,499.3 591.0,498.0 591.8,497.9 592.5,495.2 593.2,493.4 594.0,493.0 594.8,494.1 595.6,494.4 596.4,492.8 597.2,492.8 598.0,493.0 598.8,492.4 599.5,493.8 600.2,490.9 601.0,490.0 601.8,490.3 602.5,489.4 603.2,487.1 604.0,488.0 604.8,487.5 605.6,487.8 606.4,489.5 607.2,489.7 608.0,490.0 608.8,491.2 609.6,489.4 610.4,489.6 611.2,489.3 612.0,489.0 612.8,488.5 613.6,489.6 614.4,487.4 615.2,487.8 616.0,486.0 616.8,486.8 617.6,485.1 618.4,485.9 619.2,484.9 620.0,485.0 620.8,485.1 621.6,485.1 622.4,485.0 623.2,484.6 624.0,485.0 624.8,486.4 625.6,485.2 626.4,486.2 627.2,487.1 628.0,486.0 628.8,486.7 629.5,487.3 630.2,487.9 631.0,487.0 631.8,486.5 632.6,485.6 633.4,481.7 634.2,483.0 635.0,480.0 635.8,481.7 636.7,481.9 637.5,485.0 638.3,485.5 639.2,485.9 640.0,488.0 640.8,489.2 641.5,489.3 642.2,490.9 643.0,493.0 643.8,493.2 644.6,493.1 645.4,492.4 646.2,492.8 647.0,493.0 647.8,493.5 648.6,494.3 649.4,494.8 650.2,495.2 651.0,496.0 651.8,497.1 652.6,495.5 653.4,496.8 654.2,497.7 655.0,498.0 655.8,497.2 656.5,496.6 657.2,496.2 658.0,496.0 658.8,495.6 659.6,495.8 660.4,494.1 661.2,493.4 662.0,493.0 662.8,493.5 663.6,493.2 664.4,492.1 665.2,494.0 666.0,494.0 666.8,495.2 667.5,496.5 668.2,499.0 669.0,500.0 669.8,498.8 670.5,497.0 671.2,494.5 672.0,495.0 672.8,493.2 673.6,494.2 674.4,493.7 675.2,493.8 676.0,493.0 676.8,492.8 677.6,491.8 678.4,490.8 679.2,490.5 680.0,491.0 680.7,491.0 681.4,490.4 682.1,492.0 682.9,490.5 683.6,490.3 684.3,491.7 685.0,492.0 685.7,491.2 686.4,494.4 687.1,492.9 687.9,494.2 688.6,494.7 689.3,494.8 690.0,496.0 690.8,494.8 691.5,495.0 692.2,497.4 693.0,497.0 693.7,497.2 694.4,497.6 695.1,494.1 695.9,495.2 696.6,494.1 697.3,494.2 698.0,493.0 698.8,493.6 699.6,495.6 700.4,496.7 701.2,497.5 702.0,498.0 702.8,499.6 703.6,498.7 704.4,500.4 705.2,499.0 706.0,500.0 706.8,500.9 707.6,497.0 708.4,498.8 709.2,497.8 710.0,498.0 710.8,497.6 711.6,498.0 712.4,497.4 713.2,496.5 714.0,496.0 714.8,498.2 715.6,496.4 716.4,497.7 717.2,500.4 718.0,500.0 718.8,499.9 719.6,497.5 720.4,499.1 721.2,497.5 722.0,498.0 722.8,500.0 723.6,500.5 724.4,500.0 725.2,502.2 726.0,502.0 726.8,507.8 727.5,515.0 728.2,520.2 729.0,524.0 730.0,522.0 731.0,519.0 731.8,517.9 732.5,515.9 733.2,515.8 734.0,515.0 734.8,512.8 735.6,513.7 736.4,512.3 737.2,514.4 738.0,513.0 738.8,511.2 739.5,509.1 740.2,510.5 741.0,509.0 741.8,509.3 742.6,508.6 743.4,510.7 744.2,509.6 745.0,509.0 745.8,509.1 746.6,508.5 747.4,506.6 748.2,509.4 749.0,509.0 749.8,510.5 750.5,510.0 751.2,510.1 752.0,512.0 752.8,512.5 753.5,511.7 754.2,513.5 755.0,514.0 755.8,515.6 756.7,517.2 757.5,517.0 758.3,514.5 759.2,511.8 760.0,509.0 760.8,508.6 761.5,508.1 762.2,505.7 763.0,505.0 763.8,503.8 764.5,503.9 765.2,503.2 766.0,504.0 766.8,503.9 767.6,505.1 768.4,506.1 769.2,506.5 770.0,507.0 770.8,507.1 771.6,506.7 772.4,507.3 773.2,507.7 774.0,507.0 774.8,507.4 775.6,507.8 776.4,506.2 777.2,506.0 778.0,506.0 779.0,506.9 780.0,505.0 780.8,503.7 781.5,502.3 782.2,500.2 783.0,499.0 783.8,499.6 784.6,498.3 785.4,497.6 786.2,498.2 787.0,498.0 787.8,497.8 788.6,499.1 789.4,498.3 790.2,498.9 791.0,499.0 791.8,498.4 792.6,498.5 793.4,497.3 794.2,498.3 795.0,497.0 795.8,495.5 796.6,495.9 797.4,495.2 798.2,495.9 799.0,495.0 799.8,495.5 800.5,496.4 801.2,496.2 802.0,497.0 802.8,498.4 803.7,500.1 804.5,503.0 805.3,502.1 806.2,501.2 807.0,501.0 807.8,500.0 808.5,498.8 809.2,498.0 810.0,496.0 810.8,497.2 811.5,497.9 812.2,498.9 813.0,501.0 813.8,504.4 814.7,508.0 815.5,511.0 816.3,509.9 817.2,505.8 818.0,503.0 818.8,504.9 819.5,505.5 820.2,503.7 821.0,505.0 821.8,508.2 822.5,510.4 823.2,512.8 824.0,514.0 824.8,514.2 825.6,515.2 826.4,514.2 827.2,514.7 828.0,515.0 828.8,515.4 829.6,517.2 830.4,516.0 831.2,517.4 832.0,517.0 832.8,516.9 833.6,516.0 834.4,516.6 835.2,516.7 836.0,516.0 836.8,516.9 837.5,519.5 838.2,519.9 839.0,522.0 839.8,522.1 840.6,523.8 841.4,524.2 842.2,524.4 843.0,526.0 843.8,522.4 844.5,521.5 845.2,519.4 846.0,517.0 846.8,516.2 847.6,516.3 848.4,514.6 849.2,515.7 850.0,515.0 850.8,514.5 851.6,513.6 852.4,512.1 853.2,511.9 854.0,511.0 854.8,511.3 855.6,512.3 856.4,511.8 857.2,512.0 858.0,512.0 858.8,512.2 859.6,514.3 860.4,515.3 861.2,514.8 862.0,516.0 862.8,515.5 863.6,514.2 864.4,513.0 865.2,511.0 866.0,511.0 866.8,512.0 867.6,508.7 868.4,510.0 869.2,509.1 870.0,509.0 870.8,509.3 871.6,507.5 872.4,507.2 873.2,507.1 874.0,506.0 874.8,505.8 875.6,504.4 876.4,504.7 877.2,503.9 878.0,503.0 879.0,504.4 880.0,504.3 880.8,504.9 881.5,506.4 882.3,507.1 883.1,508.5 883.9,508.4 884.7,509.8 885.5,510.4 886.3,510.6 887.1,509.6 887.8,506.1 888.6,504.6 889.4,502.2 890.1,502.6 890.8,501.1 891.5,500.7 892.2,500.2 892.9,499.1 893.6,499.1 894.4,498.0 895.2,499.4 896.0,498.4 896.8,498.0 897.5,499.0 898.2,499.1 898.9,501.2 899.7,500.0 900.5,499.6 901.4,496.5 902.2,495.4 903.0,494.9 903.7,496.0 904.4,496.4 905.1,496.7 905.8,495.2 906.5,496.3 907.2,496.0 908.0,494.6 908.9,494.7 909.7,493.2 910.6,492.8 911.4,491.8 912.1,492.5 912.8,491.3 913.5,490.7 914.3,491.3 915.1,492.3 915.9,493.3 916.7,493.9 917.5,493.0 918.2,493.0 919.0,492.8 919.8,491.8 920.7,495.8 921.5,495.7 922.4,500.1 923.3,497.4 924.1,495.6 925.0,494.9 925.7,495.9 926.4,497.5 927.1,496.1 927.8,496.4 928.5,497.6 929.2,497.0 930.0,495.8 930.8,498.4 931.6,496.8 932.4,500.1 933.2,500.7 934.0,500.7 934.7,501.3 935.5,502.2 936.3,501.4 937.1,499.6 937.9,499.9 938.7,498.0 939.8,499.6 940.8,501.2 941.6,499.7 942.3,499.6 943.1,495.4 943.9,493.9 944.6,492.5 945.3,489.0 946.0,487.6 946.8,488.1 947.5,487.3 948.3,486.1 949.1,485.5 949.9,488.1 950.7,490.4 951.5,492.1 952.3,492.8 953.0,490.4 953.7,487.9 954.4,485.5 955.2,485.9 956.0,483.3 956.7,483.4 957.5,483.4 958.2,483.8 958.9,483.9 959.6,484.9 960.3,484.8 961.0,483.7 961.7,483.4 962.5,482.7 963.3,480.3 964.1,480.1 964.9,479.2 965.7,479.8 966.5,479.9 967.4,480.5 968.2,481.4 969.0,481.3 969.8,480.5 970.6,480.9 971.4,479.9 972.2,481.3 973.0,481.6 973.9,479.2 974.7,478.0 975.6,479.4 976.4,478.1 977.1,477.4 977.8,477.8 978.5,476.3 979.2,477.7 979.9,476.1 980.6,475.0 982.0,472.4 982.9,470.4 983.9,468.3 984.8,466.1 985.6,464.9 986.3,464.6 987.1,464.5 987.9,461.9" fill="none" stroke="#33dd33" stroke-width="3.5" stroke-linejoin="round" stroke-linecap="round" shape-rendering="crispEdges"/>
<polyline points="281.0,485.0 281.8,485.3 282.6,486.1 283.4,486.5 284.2,485.5 285.0,487.0 285.8,486.2 286.6,486.9 287.4,484.8 288.2,483.8 289.0,484.0 289.8,482.0 290.6,481.1 291.4,481.3 292.2,481.3 293.0,479.0 293.8,480.6 294.5,481.7 295.2,484.4 296.0,484.0 296.8,484.4 297.6,485.1 298.4,486.8 299.2,487.6 300.0,488.0 300.7,487.1 301.4,486.8 302.1,487.8 302.9,487.6 303.6,486.3 304.3,487.0 305.0,487.0 305.8,486.8 306.6,487.7 307.4,487.5 308.2,487.7 309.0,488.0 309.8,487.9 310.6,489.2 311.4,489.7 312.2,488.5 313.0,489.0 313.8,489.4 314.6,488.0 315.4,488.5 316.2,488.8 317.0,488.0 317.8,489.9 318.5,489.2 319.2,490.2 320.0,491.0 320.8,489.6 321.5,486.9 322.2,486.5 323.0,485.0 323.8,484.1 324.6,484.5 325.4,482.9 326.2,481.9 327.0,483.0 327.8,483.0 328.5,483.2 329.2,482.6 330.0,483.0 330.8,484.1 331.6,483.6 332.4,483.7 333.2,485.0 334.0,485.0 334.7,483.6 335.4,484.1 336.1,484.4 336.8,484.8 337.5,484.0 338.2,483.5 339.0,483.6 339.8,482.5 340.5,482.9 341.2,483.6 342.0,482.0 342.8,482.2 343.5,485.3 344.2,483.8 345.0,485.0 345.7,486.2 346.4,487.4 347.1,489.2 347.9,488.6 348.6,489.1 349.3,492.3 350.0,493.0 350.8,494.6 351.6,495.5 352.4,498.0 353.2,497.2 354.0,498.0 354.8,499.0 355.6,500.3 356.4,500.7 357.2,502.5 358.0,502.0 358.8,500.8 359.5,501.2 360.2,498.6 361.0,501.0 361.8,502.6 362.6,502.7 363.4,504.7 364.2,506.6 365.0,506.0 365.8,505.7 366.5,505.3 367.2,504.9 368.0,505.0 368.8,502.9 369.5,501.5 370.2,501.0 371.0,499.0 371.8,498.6 372.6,498.3 373.4,497.7 374.2,498.1 375.0,497.0 375.7,497.8 376.4,497.7 377.1,498.8 377.9,498.6 378.6,498.3 379.3,500.7 380.0,500.0 380.7,500.9 381.4,500.4 382.1,502.5 382.9,502.5 383.6,501.7 384.3,504.7 385.0,504.0 385.7,504.3 386.4,504.7 387.1,504.2 387.9,503.9 388.6,502.8 389.3,504.7 390.0,504.0 390.7,503.7 391.4,503.2 392.1,503.4 392.9,502.9 393.6,503.1 394.3,502.0 395.0,502.0 395.7,501.7 396.4,499.8 397.1,500.8 397.9,501.4 398.6,501.6 399.3,500.0 400.0,500.0 400.7,499.9 401.4,501.2 402.1,499.8 402.9,500.6 403.6,501.3 404.3,500.0 405.0,500.0 405.7,500.6 406.4,498.9 407.1,499.3 407.9,498.8 408.6,498.7 409.3,499.1 410.0,498.0 410.8,499.4 411.6,496.7 412.4,496.4 413.2,496.8 414.0,496.0 414.7,495.8 415.4,497.6 416.1,498.2 416.8,498.2 417.5,499.0 418.3,498.7 419.2,496.5 420.0,497.0 420.8,498.6 421.7,497.8 422.5,500.0 423.3,500.1 424.2,500.9 425.0,502.0 425.8,501.0 426.7,501.3 427.5,500.0 428.3,500.4 429.2,500.4 430.0,501.0 430.8,503.4 431.7,506.2 432.5,507.0 433.3,507.0 434.2,507.3 435.0,507.0 435.8,507.3 436.7,505.9 437.5,505.0 438.3,502.7 439.2,504.2 440.0,501.0 440.8,502.7 441.7,499.5 442.5,501.0 443.3,500.6 444.2,500.7 445.0,500.0 445.7,500.4 446.4,499.9 447.1,498.9 447.9,498.1 448.6,498.6 449.3,499.1 450.0,498.0 450.7,497.5 451.4,497.8 452.1,498.8 452.9,497.7 453.6,499.2 454.3,499.4 455.0,500.0 455.7,500.1 456.4,498.9 457.1,498.5 457.9,498.6 458.6,498.5 459.3,497.8 460.0,498.0 460.7,498.2 461.4,498.9 462.1,499.3 462.9,499.9 463.6,498.1 464.3,498.5 465.0,499.0 465.7,497.0 466.4,500.2 467.1,498.0 467.9,498.4 468.6,498.7 469.3,497.1 470.0,498.0 470.7,498.2 471.4,497.7 472.1,496.2 472.9,497.7 473.6,498.2 474.3,495.7 475.0,497.0 475.8,497.9 476.7,497.8 477.5,498.0 478.3,499.7 479.2,501.0 480.0,502.0 480.7,502.8 481.4,501.5 482.1,502.2 482.9,501.1 483.6,501.8 484.3,500.5 485.0,501.0 485.7,501.1 486.4,502.6 487.1,501.8 487.9,501.5 488.6,500.8 489.3,501.3 490.0,502.0 490.7,502.3 491.4,503.0 492.1,502.8 492.9,503.0 493.6,502.7 494.3,503.9 495.0,503.0 495.7,502.6 496.4,502.3 497.1,503.2 497.9,502.5 498.6,502.1 499.3,501.7 500.0,502.0 500.7,501.5 501.4,501.9 502.1,501.4 502.9,499.9 503.6,500.9 504.3,500.4 505.0,500.0 505.8,498.5 506.5,499.1 507.2,497.5 508.0,497.0 508.7,496.6 509.4,497.3 510.1,497.6 510.9,495.9 511.6,496.6 512.3,495.5 513.0,496.0 513.7,498.0 514.4,496.2 515.1,497.8 515.9,496.7 516.6,498.0 517.3,499.4 518.0,498.0 518.7,496.5 519.4,498.5 520.1,499.7 520.9,499.6 521.6,499.6 522.3,502.2 523.0,501.0 523.8,500.1 524.5,497.8 525.2,498.6 526.0,497.0 526.8,496.7 527.5,499.9 528.2,499.6 529.0,501.0 529.8,501.2 530.6,502.2 531.4,501.4 532.2,500.3 533.0,501.5 533.8,499.9 534.6,501.8 535.4,501.2 536.2,499.7 537.0,500.0 537.8,500.9 538.5,500.9 539.2,501.2 540.0,501.0 540.8,500.0 541.5,502.3 542.2,503.9 543.0,504.0 543.8,505.4 544.5,506.4 545.2,504.8 546.0,507.5 546.8,507.7 547.6,508.1 548.4,509.7 549.2,507.2 550.0,508.0 550.8,507.1 551.6,506.8 552.4,506.9 553.2,505.3 554.0,505.0 554.8,506.1 555.6,504.8 556.4,505.8 557.2,505.4 558.0,506.0 558.8,506.5 559.6,506.3 560.4,506.0 561.2,508.4 562.0,508.0 562.8,509.0 563.5,509.1 564.2,510.4 565.0,511.0 565.8,511.3 566.5,509.3 567.2,509.4 568.0,509.0 568.8,509.2 569.6,509.0 570.4,508.1 571.2,506.6 572.0,508.0 572.8,508.9 573.6,508.2 574.4,508.0 575.2,507.8 576.0,508.0 576.8,507.4 577.6,506.1 578.4,504.8 579.2,504.2 580.0,504.0 580.8,503.9 581.6,504.3 582.4,504.3 583.2,506.1 584.0,506.0 584.8,504.6 585.6,505.7 586.4,504.0 587.2,504.7 588.0,504.0 588.8,504.4 589.6,503.0 590.4,501.6 591.2,501.6 592.0,501.0 592.8,500.9 593.6,499.3 594.4,499.9 595.2,500.3 596.0,500.0 596.8,499.4 597.6,499.7 598.4,500.0 599.2,499.8 600.0,499.0 600.7,499.5 601.4,499.2 602.1,498.4 602.9,498.4 603.6,498.1 604.3,497.9 605.0,498.0 605.7,498.1 606.4,497.3 607.1,498.6 607.9,499.1 608.6,498.7 609.3,499.7 610.0,500.0 610.8,499.8 611.6,498.7 612.4,499.8 613.2,495.6 614.0,497.0 614.8,496.6 615.6,495.2 616.4,497.1 617.2,498.2 618.0,496.0 618.8,493.9 619.6,495.7 620.4,495.8 621.2,495.0 622.0,495.0 622.8,495.4 623.6,493.3 624.4,495.6 625.2,495.3 626.0,495.0 626.8,494.8 627.6,494.2 628.4,494.9 629.2,493.8 630.0,494.0 630.8,493.6 631.6,492.4 632.4,490.5 633.2,491.6 634.0,491.0 634.8,491.0 635.6,491.2 636.4,489.7 637.2,490.2 638.0,490.0 638.8,490.7 639.6,490.5 640.4,491.5 641.2,492.3 642.0,491.0 642.8,490.1 643.6,489.1 644.4,491.1 645.2,491.4 646.0,490.0 646.8,491.3 647.6,491.8 648.4,491.3 649.2,491.9 650.0,493.0 650.8,494.1 651.6,493.1 652.4,492.8 653.2,493.8 654.0,495.0 654.8,496.7 655.6,496.1 656.4,493.9 657.2,493.6 658.0,494.0 658.8,494.0 659.6,493.0 660.4,494.4 661.2,493.1 662.0,493.0 662.8,492.0 663.6,493.6 664.4,492.0 665.2,492.4 666.0,492.0 666.8,492.4 667.6,492.6 668.4,493.4 669.2,493.1 670.0,494.0 670.8,493.2 671.6,493.5 672.4,494.8 673.2,495.8 674.0,497.0 675.0,498.0 676.0,499.0 676.8,498.4 677.6,498.2 678.4,497.3 679.2,496.0 680.0,496.0 680.8,495.1 681.6,493.6 682.4,494.7 683.2,494.8 684.0,494.0 684.8,494.3 685.5,493.7 686.2,493.5 687.0,494.2 687.8,493.4 688.5,493.8 689.2,493.6 690.0,493.0 690.8,493.8 691.6,495.2 692.4,494.4 693.2,495.1 694.0,496.0 694.8,495.3 695.5,495.1 696.2,496.8 697.0,496.8 697.8,495.4 698.5,495.7 699.2,496.0 700.0,495.0 700.7,495.9 701.4,496.5 702.1,494.9 702.9,495.7 703.6,496.8 704.3,497.8 705.0,497.0 705.7,497.1 706.4,496.3 707.1,496.7 707.9,496.5 708.6,496.3 709.3,498.1 710.0,497.0 710.7,496.1 711.4,496.2 712.1,497.4 712.9,496.2 713.6,495.1 714.3,494.0 715.0,494.0 715.7,494.0 716.4,494.7 717.1,493.6 717.9,493.8 718.6,492.6 719.3,492.7 720.0,492.0 720.8,491.8 721.6,492.3 722.4,493.0 723.2,490.9 724.0,492.0 724.8,493.3 725.7,494.8 726.5,496.0 727.2,500.1 728.0,505.0 728.8,511.8 729.5,519.0 730.3,516.9 731.2,515.2 732.0,511.0 732.8,510.7 733.5,509.7 734.2,507.6 735.0,508.0 735.8,508.7 736.5,506.6 737.2,505.7 738.0,505.0 738.8,503.8 739.6,504.2 740.4,503.0 741.2,503.5 742.0,503.0 742.8,503.8 743.6,503.8 744.4,504.4 745.2,504.0 746.0,505.0 746.8,506.3 747.6,504.9 748.4,504.2 749.2,505.7 750.0,506.0 750.8,505.8 751.6,506.0 752.4,506.9 753.2,507.8 754.0,508.0 754.8,507.3 755.6,508.3 756.4,509.7 757.2,509.3 758.0,509.0 759.0,506.9 760.0,505.0 760.8,503.6 761.5,501.9 762.2,500.5 763.0,499.0 763.8,498.6 764.5,496.9 765.2,494.2 766.0,495.0 766.8,494.8 767.6,493.9 768.4,494.9 769.2,493.7 770.0,494.0 770.7,493.8 771.4,495.1 772.1,492.3 772.9,492.0 773.6,491.5 774.3,490.5 775.0,492.0 775.7,490.3 776.4,491.7 777.1,490.7 777.9,489.4 778.6,489.4 779.3,490.8 780.0,490.0 780.8,488.8 781.6,488.5 782.4,488.5 783.2,488.6 784.0,487.0 784.8,488.5 785.6,487.8 786.4,487.1 787.2,487.1 788.0,487.0 788.8,487.2 789.6,485.7 790.4,483.2 791.2,482.5 792.0,481.0 792.8,480.6 793.6,479.8 794.4,478.8 795.2,477.6 796.0,478.0 796.8,476.6 797.5,474.8 798.2,475.9 799.0,474.0 799.8,474.4 800.6,473.1 801.4,475.1 802.2,474.7 803.0,474.0 803.8,472.0 804.5,474.4 805.2,473.1 806.0,472.0 806.8,473.0 807.6,469.9 808.4,470.6 809.2,469.9 810.0,469.0 810.8,468.9 811.5,468.6 812.2,469.1 813.0,468.0 814.0,469.4 815.0,473.0 815.8,476.1 816.5,481.0 817.2,478.5 817.9,477.8 818.6,476.3 819.3,475.7 820.0,474.0 820.8,475.2 821.6,476.0 822.4,476.5 823.2,477.7 824.0,479.0 824.8,479.5 825.6,479.2 826.4,478.5 827.2,478.0 828.0,478.0 828.8,480.7 829.5,480.5 830.2,483.0 831.0,484.0 831.8,484.7 832.6,483.4 833.4,484.0 834.2,482.4 835.0,483.0 835.8,484.8 836.5,485.2 837.2,484.8 838.0,487.0 838.8,487.9 839.6,487.1 840.4,489.2 841.2,488.1 842.0,489.0 842.8,488.1 843.5,487.7 844.2,486.5 845.0,486.0 845.8,485.2 846.5,483.6 847.2,483.5 848.0,482.0 848.8,483.0 849.5,484.2 850.2,482.9 851.0,486.0 851.8,485.6 852.5,483.5 853.2,480.9 854.0,481.0 854.8,479.6 855.5,478.4 856.2,477.3 857.0,475.0 858.0,472.2 859.0,471.0 859.8,473.7 860.5,473.9 861.2,477.3 862.0,477.0 862.8,475.9 863.5,475.5 864.2,473.7 865.0,473.0 865.8,472.9 866.5,475.3 867.2,475.9 868.0,476.0 868.8,477.7 869.5,477.7 870.2,477.1 871.0,478.0 871.8,477.2 872.5,478.5 873.2,479.0 874.0,480.0 874.8,478.6 875.5,478.9 876.2,478.0 877.0,477.0 877.8,476.2 878.5,475.9 879.2,475.0 880.0,474.5 880.7,475.0 881.4,475.8 882.1,476.3 882.8,475.4 883.5,475.1 884.2,476.6 885.0,477.5 885.9,476.2 886.7,476.8 887.6,474.5 888.4,475.5 889.1,474.7 889.8,474.5 890.5,472.9 891.2,473.0 891.9,473.5 892.6,472.4 893.3,472.6 894.1,472.4 894.8,469.9 895.6,468.9 896.3,469.8 897.1,469.5 897.8,468.2 898.5,468.2 899.3,466.9 900.0,468.3 900.8,468.1 901.5,467.8 902.3,466.8 903.0,467.0 903.7,466.7 904.4,466.6 905.1,465.1 905.8,463.6 906.5,464.7 907.2,464.0 908.0,463.9 908.9,463.2 909.7,463.4 910.6,461.9 911.4,461.9 912.1,462.0 912.8,462.0 913.5,462.9 914.2,463.8 914.9,462.6 915.6,463.0 916.4,463.9 917.3,462.9 918.1,461.7 919.0,460.9 919.8,459.8 920.5,462.5 921.2,462.5 921.9,464.0 922.7,462.9 923.5,461.1 924.2,461.2 925.0,459.8 925.7,460.5 926.4,459.5 927.1,459.1 927.8,458.2 928.5,458.2 929.2,457.7 930.0,456.1 930.8,457.4 931.6,455.8 932.4,455.6 933.2,453.7 934.0,452.9 934.7,451.8 935.5,451.4 936.3,451.0 937.1,450.1 937.9,447.2 938.7,447.2 939.5,446.4 940.2,444.8 941.0,442.1 941.8,441.0 942.6,437.8 943.4,436.2 944.2,434.2 945.0,432.6 945.8,431.8 946.5,430.2 947.3,427.9 948.1,428.4 948.8,426.8 949.5,423.6 950.2,423.0 951.2,428.5 952.3,432.6 953.0,429.6 953.7,427.9 954.4,426.3 955.1,423.9 955.8,422.4 956.5,421.0 957.2,422.0 957.9,421.6 958.6,421.5 959.3,421.2 960.0,421.0 960.8,419.2 961.6,419.4 962.4,418.8 963.2,417.9 964.0,418.0 964.8,416.6 965.5,413.9 966.2,412.2 967.0,411.0 967.8,410.5 968.5,409.9 969.2,412.2 970.0,412.0 970.8,411.8 971.5,409.6 972.2,407.5 973.0,407.0 973.8,404.4 974.5,406.1 975.2,406.4 976.0,405.0 977.0,402.2 978.0,399.0 978.8,398.7 979.5,398.1 980.2,396.9 981.0,395.0 982.0,390.2 983.0,386.0 984.0,384.3 985.0,381.0 986.0,380.1 987.0,378.0 988.0,376.3 989.0,377.0" fill="none" stroke="#ff3333" stroke-width="3.5" stroke-linejoin="round" stroke-linecap="round" shape-rendering="crispEdges"/>
<polyline points="281.0,488.0 281.8,488.6 282.6,490.0 283.4,490.2 284.2,490.9 285.0,492.0 285.7,490.4 286.4,490.1 287.1,490.3 287.9,488.9 288.6,488.5 289.3,487.1 290.0,486.0 290.8,485.3 291.7,484.1 292.5,483.0 293.3,484.0 294.2,488.4 295.0,490.0 295.8,492.1 296.7,493.7 297.5,495.0 298.3,494.0 299.2,494.3 300.0,496.0 300.8,495.0 301.7,495.0 302.5,495.0 303.3,494.2 304.2,493.0 305.0,492.0 305.8,492.4 306.7,491.5 307.5,492.0 308.3,492.2 309.2,492.3 310.0,492.0 310.8,490.5 311.7,491.4 312.5,489.0 313.3,488.4 314.2,488.0 315.0,486.0 315.8,485.8 316.7,486.1 317.5,487.0 318.3,485.4 319.2,484.2 320.0,483.0 320.8,482.5 321.7,481.2 322.5,480.0 323.3,479.3 324.2,478.6 325.0,479.0 325.8,478.6 326.7,480.0 327.5,479.0 328.3,478.0 329.2,478.5 330.0,478.0 330.8,479.7 331.7,479.5 332.5,482.0 333.3,481.4 334.2,481.7 335.0,480.0 335.8,478.7 336.7,480.4 337.5,481.0 338.3,481.2 339.2,481.0 340.0,482.0 340.8,482.7 341.7,482.6 342.5,483.0 343.3,481.8 344.2,483.7 345.0,483.0 345.8,483.9 346.7,484.4 347.5,484.0 348.3,486.5 349.2,487.0 350.0,488.0 350.8,493.1 351.5,498.0 352.3,498.3 353.2,501.2 354.0,502.0 355.0,504.5 356.0,508.0 356.8,506.6 357.5,505.0 358.2,504.2 359.0,504.0 359.8,505.1 360.5,508.0 361.2,506.9 362.0,510.0 362.8,510.8 363.7,514.2 364.5,516.0 365.3,515.8 366.2,513.8 367.0,512.0 367.8,509.2 368.5,507.5 369.2,508.5 370.0,507.0 370.8,504.7 371.7,502.8 372.5,502.0 373.3,502.1 374.2,501.5 375.0,500.0 375.8,500.8 376.7,501.5 377.5,502.0 378.3,502.0 379.2,502.6 380.0,501.0 380.8,502.5 381.7,503.4 382.5,504.0 383.3,505.4 384.2,504.7 385.0,507.0 385.8,508.7 386.7,509.1 387.5,509.0 388.3,509.1 389.2,506.8 390.0,508.0 390.8,507.5 391.7,508.7 392.5,508.0 393.3,505.6 394.2,505.9 395.0,505.0 395.8,505.5 396.7,503.3 397.5,504.0 398.3,504.6 399.2,503.1 400.0,502.0 400.8,501.2 401.7,500.9 402.5,500.0 403.3,500.5 404.2,500.1 405.0,500.0 405.8,500.6 406.7,498.8 407.5,499.0 408.3,497.3 409.2,497.2 410.0,495.0 410.8,494.0 411.7,492.3 412.5,492.0 413.3,493.1 414.2,493.8 415.0,493.0 415.8,492.3 416.7,491.2 417.5,492.0 418.3,491.6 419.2,491.2 420.0,491.0 420.8,491.4 421.7,493.5 422.5,493.0 423.3,492.5 424.2,494.7 425.0,494.0 425.8,492.7 426.7,492.7 427.5,493.0 428.3,493.8 429.2,494.6 430.0,494.0 430.8,495.4 431.7,495.6 432.5,496.0 433.3,497.1 434.2,498.1 435.0,499.0 435.8,498.1 436.7,496.2 437.5,495.0 438.3,494.6 439.2,494.1 440.0,493.0 440.8,492.7 441.7,492.9 442.5,492.0 443.3,492.1 444.2,492.9 445.0,491.0 445.8,490.9 446.7,490.0 447.5,490.0 448.3,489.4 449.2,489.3 450.0,489.0 450.8,489.1 451.7,487.4 452.5,487.0 453.3,488.3 454.2,490.5 455.0,490.0 455.8,487.3 456.7,487.8 457.5,488.0 458.3,487.5 459.2,487.0 460.0,486.0 460.8,486.5 461.7,486.3 462.5,487.0 463.3,488.5 464.2,489.2 465.0,490.0 465.8,490.2 466.7,493.3 467.5,492.0 468.3,492.0 469.2,490.9 470.0,491.0 470.8,490.9 471.7,490.8 472.5,491.0 473.3,490.3 474.2,487.5 475.0,489.0 475.8,489.3 476.7,491.1 477.5,491.0 478.3,490.7 479.2,492.3 480.0,493.0 480.8,494.3 481.5,494.7 482.2,495.7 483.0,495.0 483.8,493.9 484.5,495.2 485.2,495.5 486.0,496.0 486.8,497.2 487.5,498.4 488.2,496.1 489.0,499.0 489.8,500.9 490.5,499.8 491.2,502.5 492.0,503.0 492.8,500.8 493.5,501.1 494.2,501.0 495.0,499.0 495.8,498.6 496.5,498.7 497.2,498.9 498.0,498.0 498.8,499.1 499.5,499.9 500.2,502.2 501.0,502.0 501.8,502.1 502.5,500.3 503.2,501.9 504.0,499.0 504.8,496.3 505.5,496.2 506.2,493.5 507.0,492.0 507.8,491.6 508.5,491.6 509.2,490.7 510.0,490.0 510.8,489.8 511.5,487.3 512.2,486.5 513.0,487.0 513.8,487.5 514.5,486.2 515.2,486.2 516.0,487.0 516.8,486.3 517.5,489.0 518.2,489.1 519.0,489.0 519.8,490.9 520.5,489.7 521.2,491.3 522.0,492.0 522.8,490.6 523.5,491.6 524.2,491.8 525.0,490.0 525.8,490.8 526.5,494.2 527.2,495.3 528.0,496.0 528.8,496.4 529.5,495.4 530.2,498.6 531.0,498.0 531.8,497.4 532.5,496.5 533.2,496.8 534.0,496.0 534.8,495.6 535.5,495.7 536.2,492.9 537.0,493.0 537.8,493.9 538.5,494.2 539.2,494.2 540.0,493.0 540.8,493.4 541.5,493.4 542.2,495.3 543.0,495.0 543.8,495.8 544.5,496.6 545.2,498.4 546.0,498.0 546.8,499.3 547.5,499.2 548.2,502.2 549.0,504.0 549.8,501.0 550.5,501.7 551.2,499.8 552.0,498.0 552.8,497.5 553.5,498.0 554.2,498.7 555.0,498.0 555.8,497.8 556.5,498.6 557.2,497.2 558.0,497.0 558.8,498.1 559.5,498.7 560.2,499.0 561.0,498.0 561.8,498.2 562.5,500.2 563.2,498.7 564.0,501.0 564.8,500.6 565.5,500.4 566.2,503.4 567.0,503.0 567.8,501.3 568.5,501.5 569.2,500.6 570.0,500.0 570.8,499.2 571.5,498.0 572.2,497.9 573.0,497.0 573.8,497.7 574.5,495.5 575.2,495.2 576.0,494.0 576.8,494.6 577.6,493.4 578.4,492.4 579.2,492.8 580.0,493.0 580.8,493.4 581.5,490.7 582.2,491.0 583.0,491.0 583.8,491.1 584.5,490.1 585.2,488.8 586.0,488.0 586.8,488.0 587.6,486.9 588.4,485.3 589.2,484.3 590.0,485.0 590.8,484.1 591.6,484.9 592.4,483.3 593.2,482.7 594.0,483.0 594.8,481.8 595.6,480.6 596.4,481.1 597.2,479.7 598.0,480.0 598.8,480.0 599.5,477.6 600.2,479.5 601.0,479.0 601.8,476.7 602.5,473.9 603.2,474.3 604.0,472.0 604.8,471.3 605.5,469.2 606.2,469.8 607.0,470.0 607.8,470.7 608.5,470.6 609.2,472.1 610.0,472.0 610.8,472.0 611.6,471.3 612.4,470.5 613.2,470.7 614.0,469.0 614.8,469.8 615.5,469.9 616.2,468.1 617.0,470.0 617.8,470.0 618.5,469.5 619.2,467.5 620.0,467.0 620.8,466.1 621.5,467.6 622.2,464.1 623.0,465.0 623.8,464.9 624.5,465.9 625.2,462.8 626.0,463.0 626.8,464.3 627.5,466.0 628.2,465.2 629.0,466.0 629.8,465.9 630.5,465.7 631.2,463.8 632.0,464.0 632.8,462.2 633.5,460.7 634.2,459.4 635.0,457.0 635.8,459.0 636.7,460.8 637.5,463.0 638.2,462.0 638.9,462.3 639.6,463.1 640.3,462.3 641.0,462.0 641.8,461.5 642.6,461.7 643.4,464.7 644.2,463.7 645.0,463.0 645.8,463.1 646.6,460.1 647.4,462.3 648.2,461.8 649.0,461.0 649.8,463.6 650.5,463.8 651.2,464.7 652.0,466.0 652.8,467.4 653.7,466.4 654.5,469.0 655.2,468.8 655.9,467.3 656.6,465.4 657.3,466.1 658.0,464.0 658.8,466.0 659.6,464.1 660.4,465.3 661.2,466.6 662.0,467.0 662.8,466.6 663.5,465.7 664.2,464.7 665.0,465.0 665.8,468.2 666.5,468.8 667.2,468.5 668.0,471.0 668.8,470.3 669.6,473.2 670.4,473.0 671.2,474.1 672.0,473.0 672.8,475.6 673.7,476.3 674.5,479.0 675.2,481.7 676.0,484.0 677.0,479.3 678.0,478.0 679.0,476.4 680.0,476.0 680.8,476.0 681.6,476.4 682.4,475.4 683.2,475.9 684.0,476.0 684.8,475.9 685.5,475.3 686.2,475.0 687.0,474.0 687.8,472.4 688.5,470.2 689.2,469.4 690.0,467.0 691.0,469.5 692.0,472.0 692.8,472.8 693.5,474.5 694.2,476.5 695.0,478.0 695.8,477.3 696.6,476.9 697.4,476.2 698.2,475.7 699.0,475.0 699.8,475.7 700.6,475.6 701.4,477.7 702.2,479.0 703.0,479.0 703.8,478.5 704.6,477.2 705.4,477.0 706.2,475.0 707.0,475.0 707.8,474.0 708.5,476.0 709.2,475.8 710.0,477.0 710.8,475.8 711.5,472.6 712.2,469.6 713.0,470.0 713.8,469.2 714.5,471.3 715.2,469.7 716.0,470.0 716.8,469.2 717.5,469.9 718.2,471.2 719.0,471.0 719.8,470.9 720.5,470.1 721.2,470.7 722.0,469.0 722.8,470.0 723.6,469.8 724.4,470.7 725.2,471.9 726.0,471.0 726.8,476.3 727.5,480.0 728.5,495.0 729.0,505.0 729.5,517.0 730.5,505.0 731.2,504.3 732.0,502.0 732.8,500.6 733.5,500.9 734.2,501.1 735.0,500.0 735.8,499.8 736.5,500.9 737.2,500.5 738.0,500.0 739.0,496.7 740.0,492.0 741.0,494.8 742.0,498.0 742.8,500.2 743.6,499.4 744.4,498.4 745.2,498.9 746.0,499.0 746.8,501.3 747.6,499.1 748.4,500.3 749.2,500.6 750.0,500.0 750.8,500.4 751.6,499.9 752.4,501.4 753.2,501.9 754.0,502.0 754.7,503.3 755.4,503.4 756.1,503.2 756.8,504.3 757.5,504.0 758.2,498.4 759.0,492.0 760.0,490.2 761.0,488.0 761.8,486.5 762.5,484.8 763.2,484.0 764.0,482.0 765.0,478.7 766.0,477.0 766.8,476.5 767.5,477.0 768.2,475.8 769.0,477.0 769.8,475.7 770.5,473.4 771.2,473.5 772.0,473.0 772.8,473.0 773.5,472.5 774.2,471.5 775.0,471.0 775.8,470.6 776.5,469.4 777.2,471.7 778.0,470.0 779.0,467.4 780.0,464.0 780.8,464.1 781.6,461.7 782.4,461.5 783.2,459.3 784.0,460.0 784.8,461.0 785.6,461.5 786.4,459.7 787.2,461.6 788.0,462.0 788.8,461.5 789.6,458.6 790.4,457.5 791.2,457.1 792.0,457.0 792.8,456.3 793.6,455.5 794.4,456.4 795.2,456.4 796.0,456.0 796.8,455.9 797.6,455.4 798.4,455.4 799.2,454.5 800.0,453.0 800.8,451.2 801.5,451.1 802.2,449.9 803.0,450.0 803.8,450.1 804.5,451.9 805.2,453.0 806.0,454.0 806.8,453.1 807.5,450.2 808.2,449.3 809.0,449.0 809.8,449.7 810.5,450.3 811.2,451.0 812.0,452.0 813.0,447.9 814.0,444.0 814.8,449.4 815.5,456.0 816.5,478.0 817.2,472.6 818.0,466.0 818.8,466.5 819.5,466.4 820.2,466.2 821.0,467.0 821.8,468.9 822.5,468.8 823.2,472.2 824.0,475.0 824.8,472.5 825.5,468.8 826.2,467.7 827.0,465.0 827.8,468.1 828.5,469.9 829.2,473.8 830.0,477.0 831.0,478.7 832.0,481.0 832.8,480.0 833.6,478.7 834.4,476.8 835.2,474.7 836.0,474.0 836.8,474.9 837.5,475.9 838.2,477.6 839.0,478.0 839.8,480.0 840.5,480.9 841.2,482.2 842.0,485.0 842.8,483.7 843.5,482.4 844.2,481.1 845.0,481.0 846.0,475.9 847.0,471.0 847.8,470.1 848.5,470.1 849.2,469.9 850.0,469.0 851.0,471.2 852.0,474.0 852.8,474.1 853.5,470.2 854.2,469.6 855.0,467.0 855.8,466.1 856.5,465.9 857.2,462.1 858.0,463.0 858.8,461.9 859.5,462.2 860.2,462.0 861.0,461.0 862.0,469.4 863.0,474.0 863.8,472.8 864.5,472.0 865.2,470.1 866.0,468.0 866.8,469.4 867.6,469.6 868.4,469.7 869.2,470.8 870.0,471.0 870.8,470.5 871.6,472.7 872.4,471.4 873.2,472.8 874.0,473.0 874.8,473.9 875.5,471.3 876.2,470.8 877.0,470.0 877.8,471.5 878.5,471.2 879.2,471.2 880.0,472.4 880.7,472.6 881.5,472.9 882.2,473.0 883.0,471.8 883.7,473.8 884.5,473.7 885.2,472.4 886.0,472.9 886.8,473.7 887.6,473.6 888.4,474.5 889.2,473.8 890.0,470.2 890.7,469.4 891.5,467.0 892.3,466.0 893.0,465.3 893.8,465.9 894.5,465.8 895.3,464.1 896.0,463.0 896.8,463.0 897.5,463.8 898.2,463.3 898.9,463.7 899.6,464.9 900.3,464.7 901.0,464.0 901.8,463.4 902.6,465.4 903.4,463.4 904.2,463.8 905.0,463.0 905.8,461.4 906.6,460.9 907.5,458.5 908.3,458.8 909.0,459.3 909.7,458.1 910.4,455.2 911.1,454.1 911.8,453.1 912.5,453.5 913.2,455.1 913.9,454.5 914.6,455.6 915.3,456.0 916.0,456.9 916.7,457.7 917.5,456.3 918.2,456.7 919.0,455.0 919.8,455.6 920.5,457.3 921.2,459.4 921.9,460.9 922.7,459.9 923.5,458.1 924.2,456.2 925.0,455.6 925.8,456.3 926.6,456.3 927.4,458.4 928.2,457.7 929.0,458.1 929.8,457.1 930.5,456.6 931.3,456.7 932.1,457.2 932.9,458.1 933.7,459.6 934.5,460.9 935.2,460.6 935.9,460.2 936.6,459.8 937.3,460.4 938.0,457.7 938.7,457.7 939.5,456.7 940.4,457.9 941.2,453.1 942.1,453.1 942.9,452.5 943.7,450.5 944.5,448.4 945.2,446.5 946.0,444.0 946.8,442.0 947.5,440.7 948.3,438.6 949.1,436.8 949.8,438.8 950.5,438.1 951.2,441.0 952.0,448.6 952.8,457.7 953.6,450.8 954.4,444.0 955.1,439.7 955.8,436.2 956.5,433.6 957.2,434.3 957.9,433.4 958.6,434.7 959.3,434.9 960.0,434.8 960.7,434.7 961.5,434.1 962.2,432.5 963.0,430.4 963.8,430.5 964.6,430.2 965.4,430.3 966.2,429.3 967.0,429.4 968.0,426.7 969.0,424.2 969.8,425.3 970.6,424.5 971.4,426.3 972.2,426.3 973.0,427.5 973.8,425.3 974.5,425.6 975.3,425.2 976.1,424.3 976.9,424.8 977.7,423.1 978.5,422.0 979.3,419.7 980.2,415.4 981.0,413.0 981.8,411.0 982.5,409.0 983.2,405.6 984.0,405.0 984.8,404.7 985.5,402.7 986.2,399.1 987.0,399.0 988.0,397.1 989.0,394.0" fill="none" stroke="#0000ee" stroke-width="3.6" stroke-linejoin="round" stroke-linecap="round" shape-rendering="crispEdges"/>
<path d="M281 490.5H995" stroke="#f022e6" stroke-width="1"/>
<rect x="280.5" y="23.5" width="710" height="588" fill="none" stroke="#000" stroke-width="1"/>
<path d="M991 29.5H995M991 67.5H995M991 106.5H995M991 144.5H995M991 183.5H995M991 221.5H995M991 259.5H995M991 298.5H995M991 336.5H995M991 375.5H995M991 413.5H995M991 451.5H995M991 528.5H995M991 567.5H995M991 605.5H995M324.5 612V616M368.5 612V616M412.5 612V616M457.5 612V616M500.5 612V616M544.5 612V616M588.5 612V616M632.5 612V616M676.5 612V616M720.5 612V616M764.5 612V616M809.5 612V616M852.5 612V616M896.5 612V616M940.5 612V616M984.5 612V616" stroke="#000" stroke-width="1"/>
<text transform="translate(999 35.7) scale(1 1.11)" font-family="Liberation Sans, Arial, sans-serif" font-weight="bold" font-size="14.5" fill="#000">600%</text>
<text transform="translate(999 73.7) scale(1 1.11)" font-family="Liberation Sans, Arial, sans-serif" font-weight="bold" font-size="14.5" fill="#000">550%</text>
<text transform="translate(999 112.7) scale(1 1.11)" font-family="Liberation Sans, Arial, sans-serif" font-weight="bold" font-size="14.5" fill="#000">500%</text>
<text transform="translate(999 150.7) scale(1 1.11)" font-family="Liberation Sans, Arial, sans-serif" font-weight="bold" font-size="14.5" fill="#000">450%</text>
<text transform="translate(999 189.7) scale(1 1.11)" font-family="Liberation Sans, Arial, sans-serif" font-weight="bold" font-size="14.5" fill="#000">400%</text>
<text transform="translate(999 227.7) scale(1 1.11)" font-family="Liberation Sans, Arial, sans-serif" font-weight="bold" font-size="14.5" fill="#000">350%</text>
<text transform="translate(999 265.7) scale(1 1.11)" font-family="Liberation Sans, Arial, sans-serif" font-weight="bold" font-size="14.5" fill="#000">300%</text>
<text transform="translate(999 304.7) scale(1 1.11)" font-family="Liberation Sans, Arial, sans-serif" font-weight="bold" font-size="14.5" fill="#000">250%</text>
<text transform="translate(999 342.7) scale(1 1.11)" font-family="Liberation Sans, Arial, sans-serif" font-weight="bold" font-size="14.5" fill="#000">200%</text>
<text transform="translate(999 381.7) scale(1 1.11)" font-family="Liberation Sans, Arial, sans-serif" font-weight="bold" font-size="14.5" fill="#000">150%</text>
<text transform="translate(999 419.7) scale(1 1.11)" font-family="Liberation Sans, Arial, sans-serif" font-weight="bold" font-size="14.5" fill="#000">100%</text>
<text transform="translate(999 457.7) scale(1 1.11)" font-family="Liberation Sans, Arial, sans-serif" font-weight="bold" font-size="14.5" fill="#000">50%</text>
<text transform="translate(999 496.7) scale(1 1.11)" font-family="Liberation Sans, Arial, sans-serif" font-weight="bold" font-size="14.5" fill="#000">0%</text>
<text transform="translate(999 534.7) scale(1 1.11)" font-family="Liberation Sans, Arial, sans-serif" font-weight="bold" font-size="14.5" fill="#000">-50%</text>
<text transform="translate(999 573.7) scale(1 1.11)" font-family="Liberation Sans, Arial, sans-serif" font-weight="bold" font-size="14.5" fill="#000">-100%</text>
<text transform="translate(999 611.7) scale(1 1.11)" font-family="Liberation Sans, Arial, sans-serif" font-weight="bold" font-size="14.5" fill="#000">-150%</text>
<text transform="translate(325 631.6) scale(1 1.12)" font-family="Liberation Sans, Arial, sans-serif" font-weight="bold" font-size="15" text-anchor="middle" fill="#000">2011</text>
<text transform="translate(369 631.6) scale(1 1.12)" font-family="Liberation Sans, Arial, sans-serif" font-weight="bold" font-size="15" text-anchor="middle" fill="#000">2012</text>
<text transform="translate(413 631.6) scale(1 1.12)" font-family="Liberation Sans, Arial, sans-serif" font-weight="bold" font-size="15" text-anchor="middle" fill="#000">2013</text>
<text transform="translate(458 631.6) scale(1 1.12)" font-family="Liberation Sans, Arial, sans-serif" font-weight="bold" font-size="15" text-anchor="middle" fill="#000">2014</text>
<text transform="translate(501 631.6) scale(1 1.12)" font-family="Liberation Sans, Arial, sans-serif" font-weight="bold" font-size="15" text-anchor="middle" fill="#000">2015</text>
<text transform="translate(545 631.6) scale(1 1.12)" font-family="Liberation Sans, Arial, sans-serif" font-weight="bold" font-size="15" text-anchor="middle" fill="#000">2016</text>
<text transform="translate(589 631.6) scale(1 1.12)" font-family="Liberation Sans, Arial, sans-serif" font-weight="bold" font-size="15" text-anchor="middle" fill="#000">2017</text>
<text transform="translate(633 631.6) scale(1 1.12)" font-family="Liberation Sans, Arial, sans-serif" font-weight="bold" font-size="15" text-anchor="middle" fill="#000">2018</text>
<text transform="translate(677 631.6) scale(1 1.12)" font-family="Liberation Sans, Arial, sans-serif" font-weight="bold" font-size="15" text-anchor="middle" fill="#000">2019</text>
<text transform="translate(721 631.6) scale(1 1.12)" font-family="Liberation Sans, Arial, sans-serif" font-weight="bold" font-size="15" text-anchor="middle" fill="#000">2020</text>
<text transform="translate(765 631.6) scale(1 1.12)" font-family="Liberation Sans, Arial, sans-serif" font-weight="bold" font-size="15" text-anchor="middle" fill="#000">2021</text>
<text transform="translate(810 631.6) scale(1 1.12)" font-family="Liberation Sans, Arial, sans-serif" font-weight="bold" font-size="15" text-anchor="middle" fill="#000">2022</text>
<text transform="translate(853 631.6) scale(1 1.12)" font-family="Liberation Sans, Arial, sans-serif" font-weight="bold" font-size="15" text-anchor="middle" fill="#000">2023</text>
<text transform="translate(897 631.6) scale(1 1.12)" font-family="Liberation Sans, Arial, sans-serif" font-weight="bold" font-size="15" text-anchor="middle" fill="#000">2024</text>
<text transform="translate(941 631.6) scale(1 1.12)" font-family="Liberation Sans, Arial, sans-serif" font-weight="bold" font-size="15" text-anchor="middle" fill="#000">2025</text>
<text transform="translate(985 631.6) scale(1 1.12)" font-family="Liberation Sans, Arial, sans-serif" font-weight="bold" font-size="15" text-anchor="middle" fill="#000">2026</text>
<text x="637.8" y="20" font-family="Liberation Sans, Arial, sans-serif" font-weight="bold" font-size="19.1" text-anchor="middle" fill="#0000ff">EUROPE MINOR MARKETS PERCENTAGE CHANGE SINCE 2010</text>
<text transform="translate(107.8 37.7) scale(1 1.03)" font-family="Liberation Sans, Arial, sans-serif" font-weight="bold" font-size="14.6" text-anchor="end" fill="#0000ff">01-02-10</text>
<text transform="translate(129.8 37.7) scale(1 1.03)" font-family="Liberation Sans, Arial, sans-serif" font-weight="bold" font-size="14.6" fill="#0000ff">02-06-26</text>
<text transform="translate(205.5 37.7) scale(1 1.03)" font-family="Liberation Sans, Arial, sans-serif" font-weight="bold" font-size="14.8" fill="#0000ff">% Change</text>
<text transform="translate(3.6 63.3) scale(1 1.08)" font-family="Liberation Sans, Arial, sans-serif" font-weight="bold" font-size="15" fill="#0000ee">ATX</text>
<text transform="translate(107.8 63.3) scale(1 1.1)" font-family="Liberation Sans, Arial, sans-serif" font-weight="bold" font-size="14.4" text-anchor="end" fill="#000">2537</text>
<text transform="translate(178.2 63.3) scale(1 1.1)" font-family="Liberation Sans, Arial, sans-serif" font-weight="bold" font-size="14.4" text-anchor="end" fill="#000">5666</text>
<text transform="translate(258.2 63.3) scale(1 1.1)" font-family="Liberation Sans, Arial, sans-serif" font-weight="bold" font-size="14.3" text-anchor="end" fill="#0a960a">123.3 %</text>
<text transform="translate(3.6 88.3) scale(1 1.08)" font-family="Liberation Sans, Arial, sans-serif" font-weight="bold" font-size="15" fill="#ff3333">PXIND</text>
<text transform="translate(107.8 88.3) scale(1 1.1)" font-family="Liberation Sans, Arial, sans-serif" font-weight="bold" font-size="14.4" text-anchor="end" fill="#000">1133</text>
<text transform="translate(178.2 88.3) scale(1 1.1)" font-family="Liberation Sans, Arial, sans-serif" font-weight="bold" font-size="14.4" text-anchor="end" fill="#000">2759</text>
<text transform="translate(258.2 88.3) scale(1 1.1)" font-family="Liberation Sans, Arial, sans-serif" font-weight="bold" font-size="14.3" text-anchor="end" fill="#0a960a">143.7 %</text>
<text transform="translate(3.6 113.3) scale(1 1.08)" font-family="Liberation Sans, Arial, sans-serif" font-weight="bold" font-size="15" fill="#ee88cc">HEX</text>
<text transform="translate(107.8 113.3) scale(1 1.1)" font-family="Liberation Sans, Arial, sans-serif" font-weight="bold" font-size="14.4" text-anchor="end" fill="#000">6627</text>
<text transform="translate(178.2 113.3) scale(1 1.1)" font-family="Liberation Sans, Arial, sans-serif" font-weight="bold" font-size="14.4" text-anchor="end" fill="#000">12772</text>
<text transform="translate(258.2 113.3) scale(1 1.1)" font-family="Liberation Sans, Arial, sans-serif" font-weight="bold" font-size="14.3" text-anchor="end" fill="#0a960a">92.7 %</text>
<text transform="translate(3.6 138.3) scale(1 1.08)" font-family="Liberation Sans, Arial, sans-serif" font-weight="bold" font-size="15" fill="#d7a48c">GDAT</text>
<text transform="translate(107.8 138.3) scale(1 1.1)" font-family="Liberation Sans, Arial, sans-serif" font-weight="bold" font-size="14.4" text-anchor="end" fill="#000">2190</text>
<text transform="translate(178.2 138.3) scale(1 1.1)" font-family="Liberation Sans, Arial, sans-serif" font-weight="bold" font-size="14.4" text-anchor="end" fill="#000">2362</text>
<text transform="translate(258.2 138.3) scale(1 1.1)" font-family="Liberation Sans, Arial, sans-serif" font-weight="bold" font-size="14.3" text-anchor="end" fill="#0a960a">7.9 %</text>
<text transform="translate(3.6 163.3) scale(1 1.08)" font-family="Liberation Sans, Arial, sans-serif" font-weight="bold" font-size="15" fill="#bb88ee">BUX</text>
<text transform="translate(107.8 163.3) scale(1 1.1)" font-family="Liberation Sans, Arial, sans-serif" font-weight="bold" font-size="14.4" text-anchor="end" fill="#000">21562</text>
<text transform="translate(178.2 163.3) scale(1 1.1)" font-family="Liberation Sans, Arial, sans-serif" font-weight="bold" font-size="14.4" text-anchor="end" fill="#000">130030</text>
<text transform="translate(258.2 163.3) scale(1 1.1)" font-family="Liberation Sans, Arial, sans-serif" font-weight="bold" font-size="14.3" text-anchor="end" fill="#0a960a">503.1 %</text>
<text transform="translate(3.6 188.3) scale(1 1.08)" font-family="Liberation Sans, Arial, sans-serif" font-weight="bold" font-size="15" fill="#33dd33">PTL</text>
<text transform="translate(107.8 188.3) scale(1 1.1)" font-family="Liberation Sans, Arial, sans-serif" font-weight="bold" font-size="14.4" text-anchor="end" fill="#000">1965</text>
<text transform="translate(178.2 188.3) scale(1 1.1)" font-family="Liberation Sans, Arial, sans-serif" font-weight="bold" font-size="14.4" text-anchor="end" fill="#000">2674</text>
<text transform="translate(258.2 188.3) scale(1 1.1)" font-family="Liberation Sans, Arial, sans-serif" font-weight="bold" font-size="14.3" text-anchor="end" fill="#0a960a">36.1 %</text>
<rect x="7" y="284" width="28" height="8" fill="#0000ee"/>
<text transform="translate(46 293.3) scale(1 1.06)" font-family="Liberation Sans, Arial, sans-serif" font-weight="bold" font-size="14.8" fill="#000">Austria - ATX Index</text>
<rect x="7" y="308" width="28" height="8" fill="#ff3333"/>
<text transform="translate(46 317.3) scale(1 1.06)" font-family="Liberation Sans, Arial, sans-serif" font-weight="bold" font-size="14.8" fill="#000">Czech Republic - Prague Index</text>
<rect x="7" y="332" width="28" height="8" fill="#ee88cc"/>
<text transform="translate(46 341.3) scale(1 1.06)" font-family="Liberation Sans, Arial, sans-serif" font-weight="bold" font-size="14.8" fill="#000">Finland - Helinski General Index</text>
<rect x="7" y="356" width="28" height="8" fill="#d7a48c"/>
<text transform="translate(46 365.3) scale(1 1.06)" font-family="Liberation Sans, Arial, sans-serif" font-weight="bold" font-size="14.8" fill="#000">Greece - Athens Composite</text>
<rect x="7" y="380" width="28" height="8" fill="#bb88ee"/>
<text transform="translate(46 389.3) scale(1 1.06)" font-family="Liberation Sans, Arial, sans-serif" font-weight="bold" font-size="14.8" fill="#000">Hungary - Budapest Stock Index</text>
<rect x="7" y="404" width="28" height="8" fill="#33dd33"/>
<text transform="translate(46 413.3) scale(1 1.06)" font-family="Liberation Sans, Arial, sans-serif" font-weight="bold" font-size="14.8" fill="#000">Poland - LO Index</text>
<text x="644" y="646.8" font-family="Liberation Sans, Arial, sans-serif" font-size="11.4" text-anchor="middle" fill="#000">world gold charts © www.goldchartsrus.com</text>
</svg></body></html>
